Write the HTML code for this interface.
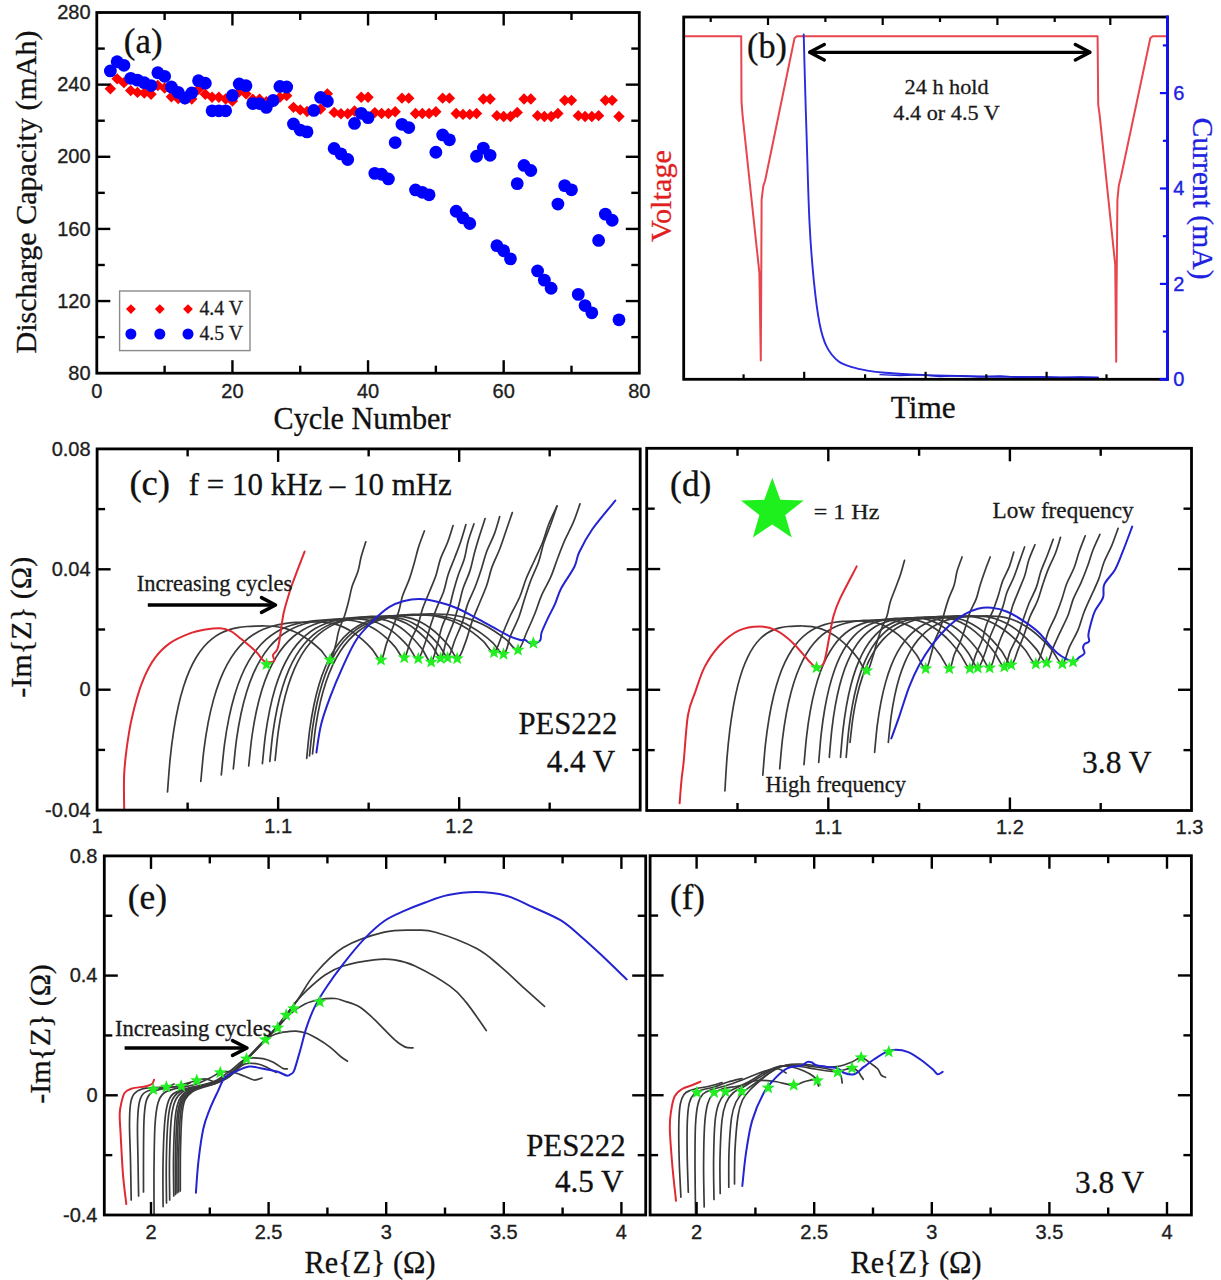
<!DOCTYPE html>
<html><head><meta charset="utf-8"><title>Figure</title>
<style>
html,body{margin:0;padding:0;background:#fff;}
body{width:1221px;height:1280px;overflow:hidden;font-family:"Liberation Sans",sans-serif;}
svg{display:block;}
#wrap{width:1221px;height:1280px;}
</style></head><body>
<div id="wrap"><svg width="1221" height="1280" viewBox="0 0 1221 1280">
<rect width="1221" height="1280" fill="#fff"/>
<g>
<polygon points="110.36,83.09 116.06,88.79 110.36,94.49 104.66,88.79" fill="#ff0000"/>
<polygon points="117.14,73.17 122.84,78.87 117.14,84.57 111.44,78.87" fill="#ff0000"/>
<polygon points="123.92,76.96 129.62,82.66 123.92,88.36 118.22,82.66" fill="#ff0000"/>
<polygon points="130.71,84.89 136.41,90.59 130.71,96.29 125.01,90.59" fill="#ff0000"/>
<polygon points="137.49,86.7 143.19,92.4 137.49,98.1 131.79,92.4" fill="#ff0000"/>
<polygon points="144.27,87.24 149.97,92.94 144.27,98.64 138.57,92.94" fill="#ff0000"/>
<polygon points="151.05,88.5 156.75,94.2 151.05,99.9 145.35,94.2" fill="#ff0000"/>
<polygon points="157.83,79.84 163.53,85.54 157.83,91.24 152.13,85.54" fill="#ff0000"/>
<polygon points="164.61,82.37 170.31,88.07 164.61,93.77 158.91,88.07" fill="#ff0000"/>
<polygon points="171.39,91.02 177.09,96.72 171.39,102.42 165.69,96.72" fill="#ff0000"/>
<polygon points="178.18,92.83 183.88,98.53 178.18,104.23 172.48,98.53" fill="#ff0000"/>
<polygon points="184.96,93.37 190.66,99.07 184.96,104.77 179.26,99.07" fill="#ff0000"/>
<polygon points="191.74,93.37 197.44,99.07 191.74,104.77 186.04,99.07" fill="#ff0000"/>
<polygon points="198.52,83.63 204.22,89.33 198.52,95.03 192.82,89.33" fill="#ff0000"/>
<polygon points="205.3,88.5 211,94.2 205.3,99.9 199.6,94.2" fill="#ff0000"/>
<polygon points="212.08,91.56 217.78,97.26 212.08,102.96 206.38,97.26" fill="#ff0000"/>
<polygon points="218.86,91.56 224.56,97.26 218.86,102.96 213.16,97.26" fill="#ff0000"/>
<polygon points="225.64,93.37 231.34,99.07 225.64,104.77 219.94,99.07" fill="#ff0000"/>
<polygon points="232.43,95.35 238.12,101.05 232.43,106.75 226.73,101.05" fill="#ff0000"/>
<polygon points="239.21,86.15 244.91,91.85 239.21,97.55 233.51,91.85" fill="#ff0000"/>
<polygon points="245.99,88.14 251.69,93.84 245.99,99.54 240.29,93.84" fill="#ff0000"/>
<polygon points="252.77,93.55 258.47,99.25 252.77,104.95 247.07,99.25" fill="#ff0000"/>
<polygon points="259.55,93.55 265.25,99.25 259.55,104.95 253.85,99.25" fill="#ff0000"/>
<polygon points="266.33,96.07 272.03,101.77 266.33,107.47 260.63,101.77" fill="#ff0000"/>
<polygon points="273.11,95.17 278.81,100.87 273.11,106.57 267.41,100.87" fill="#ff0000"/>
<polygon points="279.89,91.56 285.59,97.26 279.89,102.96 274.19,97.26" fill="#ff0000"/>
<polygon points="286.68,89.94 292.38,95.64 286.68,101.34 280.98,95.64" fill="#ff0000"/>
<polygon points="293.46,101.66 299.16,107.36 293.46,113.06 287.76,107.36" fill="#ff0000"/>
<polygon points="300.24,104.19 305.94,109.89 300.24,115.59 294.54,109.89" fill="#ff0000"/>
<polygon points="307.02,105.81 312.72,111.51 307.02,117.21 301.32,111.51" fill="#ff0000"/>
<polygon points="313.8,105.09 319.5,110.79 313.8,116.49 308.1,110.79" fill="#ff0000"/>
<polygon points="320.58,103.29 326.28,108.99 320.58,114.69 314.88,108.99" fill="#ff0000"/>
<polygon points="327.36,88.14 333.06,93.84 327.36,99.54 321.66,93.84" fill="#ff0000"/>
<polygon points="334.14,106.71 339.84,112.41 334.14,118.11 328.44,112.41" fill="#ff0000"/>
<polygon points="340.93,107.98 346.62,113.68 340.93,119.38 335.23,113.68" fill="#ff0000"/>
<polygon points="347.71,107.98 353.41,113.68 347.71,119.38 342.01,113.68" fill="#ff0000"/>
<polygon points="354.49,105.27 360.19,110.97 354.49,116.67 348.79,110.97" fill="#ff0000"/>
<polygon points="361.27,91.56 366.97,97.26 361.27,102.96 355.57,97.26" fill="#ff0000"/>
<polygon points="368.05,91.56 373.75,97.26 368.05,102.96 362.35,97.26" fill="#ff0000"/>
<polygon points="374.83,106.89 380.53,112.59 374.83,118.29 369.13,112.59" fill="#ff0000"/>
<polygon points="381.61,107.8 387.31,113.5 381.61,119.2 375.91,113.5" fill="#ff0000"/>
<polygon points="388.39,107.8 394.09,113.5 388.39,119.2 382.69,113.5" fill="#ff0000"/>
<polygon points="395.18,105.99 400.88,111.69 395.18,117.39 389.48,111.69" fill="#ff0000"/>
<polygon points="401.96,92.47 407.66,98.17 401.96,103.87 396.26,98.17" fill="#ff0000"/>
<polygon points="408.74,92.47 414.44,98.17 408.74,103.87 403.04,98.17" fill="#ff0000"/>
<polygon points="415.52,107.8 421.22,113.5 415.52,119.2 409.82,113.5" fill="#ff0000"/>
<polygon points="422.3,107.8 428,113.5 422.3,119.2 416.6,113.5" fill="#ff0000"/>
<polygon points="429.08,107.8 434.78,113.5 429.08,119.2 423.38,113.5" fill="#ff0000"/>
<polygon points="435.86,105.99 441.56,111.69 435.86,117.39 430.16,111.69" fill="#ff0000"/>
<polygon points="442.64,92.47 448.34,98.17 442.64,103.87 436.94,98.17" fill="#ff0000"/>
<polygon points="449.43,92.47 455.12,98.17 449.43,103.87 443.73,98.17" fill="#ff0000"/>
<polygon points="456.21,107.8 461.91,113.5 456.21,119.2 450.51,113.5" fill="#ff0000"/>
<polygon points="462.99,108.7 468.69,114.4 462.99,120.1 457.29,114.4" fill="#ff0000"/>
<polygon points="469.77,108.7 475.47,114.4 469.77,120.1 464.07,114.4" fill="#ff0000"/>
<polygon points="476.55,107.8 482.25,113.5 476.55,119.2 470.85,113.5" fill="#ff0000"/>
<polygon points="483.33,93.37 489.03,99.07 483.33,104.77 477.63,99.07" fill="#ff0000"/>
<polygon points="490.11,93.37 495.81,99.07 490.11,104.77 484.41,99.07" fill="#ff0000"/>
<polygon points="496.89,109.96 502.59,115.66 496.89,121.36 491.19,115.66" fill="#ff0000"/>
<polygon points="503.68,110.86 509.38,116.56 503.68,122.26 497.98,116.56" fill="#ff0000"/>
<polygon points="510.46,110.86 516.16,116.56 510.46,122.26 504.76,116.56" fill="#ff0000"/>
<polygon points="517.24,106.71 522.94,112.41 517.24,118.11 511.54,112.41" fill="#ff0000"/>
<polygon points="524.02,93.37 529.72,99.07 524.02,104.77 518.32,99.07" fill="#ff0000"/>
<polygon points="530.8,93.37 536.5,99.07 530.8,104.77 525.1,99.07" fill="#ff0000"/>
<polygon points="537.58,109.96 543.28,115.66 537.58,121.36 531.88,115.66" fill="#ff0000"/>
<polygon points="544.36,110.86 550.06,116.56 544.36,122.26 538.66,116.56" fill="#ff0000"/>
<polygon points="551.14,110.86 556.84,116.56 551.14,122.26 545.44,116.56" fill="#ff0000"/>
<polygon points="557.92,107.8 563.62,113.5 557.92,119.2 552.22,113.5" fill="#ff0000"/>
<polygon points="564.71,94.63 570.41,100.33 564.71,106.03 559.01,100.33" fill="#ff0000"/>
<polygon points="571.49,94.63 577.19,100.33 571.49,106.03 565.79,100.33" fill="#ff0000"/>
<polygon points="578.27,109.96 583.97,115.66 578.27,121.36 572.57,115.66" fill="#ff0000"/>
<polygon points="585.05,110.86 590.75,116.56 585.05,122.26 579.35,116.56" fill="#ff0000"/>
<polygon points="591.83,110.86 597.53,116.56 591.83,122.26 586.13,116.56" fill="#ff0000"/>
<polygon points="598.61,109.96 604.31,115.66 598.61,121.36 592.91,115.66" fill="#ff0000"/>
<polygon points="605.39,94.63 611.09,100.33 605.39,106.03 599.69,100.33" fill="#ff0000"/>
<polygon points="612.17,94.63 617.88,100.33 612.17,106.03 606.47,100.33" fill="#ff0000"/>
<polygon points="618.96,110.86 624.66,116.56 618.96,122.26 613.26,116.56" fill="#ff0000"/>
<circle cx="110.36" cy="70.93" r="6.4" fill="#0000ff"/>
<circle cx="117.14" cy="61.74" r="6.4" fill="#0000ff"/>
<circle cx="123.92" cy="65.34" r="6.4" fill="#0000ff"/>
<circle cx="130.71" cy="78.33" r="6.4" fill="#0000ff"/>
<circle cx="137.49" cy="80.13" r="6.4" fill="#0000ff"/>
<circle cx="144.27" cy="82.66" r="6.4" fill="#0000ff"/>
<circle cx="151.05" cy="85.54" r="6.4" fill="#0000ff"/>
<circle cx="157.83" cy="72.74" r="6.4" fill="#0000ff"/>
<circle cx="164.61" cy="76.34" r="6.4" fill="#0000ff"/>
<circle cx="171.39" cy="86.98" r="6.4" fill="#0000ff"/>
<circle cx="178.18" cy="92.4" r="6.4" fill="#0000ff"/>
<circle cx="184.96" cy="97.99" r="6.4" fill="#0000ff"/>
<circle cx="191.74" cy="92.94" r="6.4" fill="#0000ff"/>
<circle cx="198.52" cy="80.67" r="6.4" fill="#0000ff"/>
<circle cx="205.3" cy="83.2" r="6.4" fill="#0000ff"/>
<circle cx="212.08" cy="110.79" r="6.4" fill="#0000ff"/>
<circle cx="218.86" cy="110.79" r="6.4" fill="#0000ff"/>
<circle cx="225.64" cy="110.79" r="6.4" fill="#0000ff"/>
<circle cx="232.43" cy="95.46" r="6.4" fill="#0000ff"/>
<circle cx="239.21" cy="83.92" r="6.4" fill="#0000ff"/>
<circle cx="245.99" cy="85.72" r="6.4" fill="#0000ff"/>
<circle cx="252.77" cy="103.58" r="6.4" fill="#0000ff"/>
<circle cx="259.55" cy="103.58" r="6.4" fill="#0000ff"/>
<circle cx="266.33" cy="107.36" r="6.4" fill="#0000ff"/>
<circle cx="273.11" cy="100.51" r="6.4" fill="#0000ff"/>
<circle cx="279.89" cy="86.44" r="6.4" fill="#0000ff"/>
<circle cx="286.68" cy="86.98" r="6.4" fill="#0000ff"/>
<circle cx="293.46" cy="123.96" r="6.4" fill="#0000ff"/>
<circle cx="300.24" cy="130.09" r="6.4" fill="#0000ff"/>
<circle cx="307.02" cy="131.89" r="6.4" fill="#0000ff"/>
<circle cx="313.8" cy="110.43" r="6.4" fill="#0000ff"/>
<circle cx="320.58" cy="97.44" r="6.4" fill="#0000ff"/>
<circle cx="327.36" cy="101.23" r="6.4" fill="#0000ff"/>
<circle cx="334.14" cy="148.48" r="6.4" fill="#0000ff"/>
<circle cx="340.93" cy="153.89" r="6.4" fill="#0000ff"/>
<circle cx="347.71" cy="159.49" r="6.4" fill="#0000ff"/>
<circle cx="354.49" cy="123.42" r="6.4" fill="#0000ff"/>
<circle cx="361.27" cy="113.32" r="6.4" fill="#0000ff"/>
<circle cx="368.05" cy="117.64" r="6.4" fill="#0000ff"/>
<circle cx="374.83" cy="173.37" r="6.4" fill="#0000ff"/>
<circle cx="381.61" cy="174.27" r="6.4" fill="#0000ff"/>
<circle cx="388.39" cy="178.96" r="6.4" fill="#0000ff"/>
<circle cx="395.18" cy="142.53" r="6.4" fill="#0000ff"/>
<circle cx="401.96" cy="124.32" r="6.4" fill="#0000ff"/>
<circle cx="408.74" cy="127.56" r="6.4" fill="#0000ff"/>
<circle cx="415.52" cy="189.96" r="6.4" fill="#0000ff"/>
<circle cx="422.3" cy="192.31" r="6.4" fill="#0000ff"/>
<circle cx="429.08" cy="194.83" r="6.4" fill="#0000ff"/>
<circle cx="435.86" cy="152.27" r="6.4" fill="#0000ff"/>
<circle cx="442.64" cy="134.96" r="6.4" fill="#0000ff"/>
<circle cx="449.43" cy="139.83" r="6.4" fill="#0000ff"/>
<circle cx="456.21" cy="211.25" r="6.4" fill="#0000ff"/>
<circle cx="462.99" cy="217.92" r="6.4" fill="#0000ff"/>
<circle cx="469.77" cy="223.51" r="6.4" fill="#0000ff"/>
<circle cx="476.55" cy="156.24" r="6.4" fill="#0000ff"/>
<circle cx="483.33" cy="148.12" r="6.4" fill="#0000ff"/>
<circle cx="490.11" cy="155.34" r="6.4" fill="#0000ff"/>
<circle cx="496.89" cy="245.69" r="6.4" fill="#0000ff"/>
<circle cx="503.68" cy="250.74" r="6.4" fill="#0000ff"/>
<circle cx="510.46" cy="258.86" r="6.4" fill="#0000ff"/>
<circle cx="517.24" cy="183.65" r="6.4" fill="#0000ff"/>
<circle cx="524.02" cy="165.44" r="6.4" fill="#0000ff"/>
<circle cx="530.8" cy="170.49" r="6.4" fill="#0000ff"/>
<circle cx="537.58" cy="270.94" r="6.4" fill="#0000ff"/>
<circle cx="544.36" cy="280.14" r="6.4" fill="#0000ff"/>
<circle cx="551.14" cy="288.26" r="6.4" fill="#0000ff"/>
<circle cx="557.92" cy="204.03" r="6.4" fill="#0000ff"/>
<circle cx="564.71" cy="185.64" r="6.4" fill="#0000ff"/>
<circle cx="571.49" cy="189.78" r="6.4" fill="#0000ff"/>
<circle cx="578.27" cy="294.39" r="6.4" fill="#0000ff"/>
<circle cx="585.05" cy="305.57" r="6.4" fill="#0000ff"/>
<circle cx="591.83" cy="312.78" r="6.4" fill="#0000ff"/>
<circle cx="598.61" cy="240.46" r="6.4" fill="#0000ff"/>
<circle cx="605.39" cy="214.13" r="6.4" fill="#0000ff"/>
<circle cx="612.17" cy="220.26" r="6.4" fill="#0000ff"/>
<circle cx="618.96" cy="319.82" r="6.4" fill="#0000ff"/>
<rect x="96.8" y="12.5" width="542.5" height="360.7" fill="none" stroke="#000" stroke-width="2.8"/>
<line x1="232.43" y1="373.2" x2="232.43" y2="360.2" stroke="#000" stroke-width="2.4" />
<line x1="232.43" y1="12.5" x2="232.43" y2="25.5" stroke="#000" stroke-width="2.4" />
<line x1="368.05" y1="373.2" x2="368.05" y2="360.2" stroke="#000" stroke-width="2.4" />
<line x1="368.05" y1="12.5" x2="368.05" y2="25.5" stroke="#000" stroke-width="2.4" />
<line x1="503.68" y1="373.2" x2="503.68" y2="360.2" stroke="#000" stroke-width="2.4" />
<line x1="503.68" y1="12.5" x2="503.68" y2="25.5" stroke="#000" stroke-width="2.4" />
<line x1="164.61" y1="373.2" x2="164.61" y2="365.7" stroke="#000" stroke-width="2.4" />
<line x1="164.61" y1="12.5" x2="164.61" y2="20" stroke="#000" stroke-width="2.4" />
<line x1="300.24" y1="373.2" x2="300.24" y2="365.7" stroke="#000" stroke-width="2.4" />
<line x1="300.24" y1="12.5" x2="300.24" y2="20" stroke="#000" stroke-width="2.4" />
<line x1="435.86" y1="373.2" x2="435.86" y2="365.7" stroke="#000" stroke-width="2.4" />
<line x1="435.86" y1="12.5" x2="435.86" y2="20" stroke="#000" stroke-width="2.4" />
<line x1="571.49" y1="373.2" x2="571.49" y2="365.7" stroke="#000" stroke-width="2.4" />
<line x1="571.49" y1="12.5" x2="571.49" y2="20" stroke="#000" stroke-width="2.4" />
<line x1="96.8" y1="301.06" x2="110.3" y2="301.06" stroke="#000" stroke-width="2.4" />
<line x1="639.3" y1="301.06" x2="625.8" y2="301.06" stroke="#000" stroke-width="2.4" />
<line x1="96.8" y1="228.92" x2="110.3" y2="228.92" stroke="#000" stroke-width="2.4" />
<line x1="639.3" y1="228.92" x2="625.8" y2="228.92" stroke="#000" stroke-width="2.4" />
<line x1="96.8" y1="156.78" x2="110.3" y2="156.78" stroke="#000" stroke-width="2.4" />
<line x1="639.3" y1="156.78" x2="625.8" y2="156.78" stroke="#000" stroke-width="2.4" />
<line x1="96.8" y1="84.64" x2="110.3" y2="84.64" stroke="#000" stroke-width="2.4" />
<line x1="639.3" y1="84.64" x2="625.8" y2="84.64" stroke="#000" stroke-width="2.4" />
<line x1="96.8" y1="337.13" x2="104.8" y2="337.13" stroke="#000" stroke-width="2.4" />
<line x1="639.3" y1="337.13" x2="631.3" y2="337.13" stroke="#000" stroke-width="2.4" />
<line x1="96.8" y1="264.99" x2="104.8" y2="264.99" stroke="#000" stroke-width="2.4" />
<line x1="639.3" y1="264.99" x2="631.3" y2="264.99" stroke="#000" stroke-width="2.4" />
<line x1="96.8" y1="192.85" x2="104.8" y2="192.85" stroke="#000" stroke-width="2.4" />
<line x1="639.3" y1="192.85" x2="631.3" y2="192.85" stroke="#000" stroke-width="2.4" />
<line x1="96.8" y1="120.71" x2="104.8" y2="120.71" stroke="#000" stroke-width="2.4" />
<line x1="639.3" y1="120.71" x2="631.3" y2="120.71" stroke="#000" stroke-width="2.4" />
<line x1="96.8" y1="48.57" x2="104.8" y2="48.57" stroke="#000" stroke-width="2.4" />
<line x1="639.3" y1="48.57" x2="631.3" y2="48.57" stroke="#000" stroke-width="2.4" />
<text x="96.8" y="397.5" font-family='"Liberation Sans", sans-serif' font-size="20" fill="#1e1e1e" text-anchor="middle" stroke="#1e1e1e" stroke-width="0.35">0</text>
<text x="232.43" y="397.5" font-family='"Liberation Sans", sans-serif' font-size="20" fill="#1e1e1e" text-anchor="middle" stroke="#1e1e1e" stroke-width="0.35">20</text>
<text x="368.05" y="397.5" font-family='"Liberation Sans", sans-serif' font-size="20" fill="#1e1e1e" text-anchor="middle" stroke="#1e1e1e" stroke-width="0.35">40</text>
<text x="503.68" y="397.5" font-family='"Liberation Sans", sans-serif' font-size="20" fill="#1e1e1e" text-anchor="middle" stroke="#1e1e1e" stroke-width="0.35">60</text>
<text x="639.3" y="397.5" font-family='"Liberation Sans", sans-serif' font-size="20" fill="#1e1e1e" text-anchor="middle" stroke="#1e1e1e" stroke-width="0.35">80</text>
<text x="90.6" y="379.8" font-family='"Liberation Sans", sans-serif' font-size="20" fill="#1e1e1e" text-anchor="end" stroke="#1e1e1e" stroke-width="0.35">80</text>
<text x="90.6" y="307.66" font-family='"Liberation Sans", sans-serif' font-size="20" fill="#1e1e1e" text-anchor="end" stroke="#1e1e1e" stroke-width="0.35">120</text>
<text x="90.6" y="235.52" font-family='"Liberation Sans", sans-serif' font-size="20" fill="#1e1e1e" text-anchor="end" stroke="#1e1e1e" stroke-width="0.35">160</text>
<text x="90.6" y="163.38" font-family='"Liberation Sans", sans-serif' font-size="20" fill="#1e1e1e" text-anchor="end" stroke="#1e1e1e" stroke-width="0.35">200</text>
<text x="90.6" y="91.24" font-family='"Liberation Sans", sans-serif' font-size="20" fill="#1e1e1e" text-anchor="end" stroke="#1e1e1e" stroke-width="0.35">240</text>
<text x="90.6" y="19.1" font-family='"Liberation Sans", sans-serif' font-size="20" fill="#1e1e1e" text-anchor="end" stroke="#1e1e1e" stroke-width="0.35">280</text>
<rect x="119.6" y="291" width="130.4" height="59.6" fill="#fff" stroke="#8a8a8a" stroke-width="1.4"/>
<polygon points="130.9,304.2 135.8,309.1 130.9,314 126,309.1" fill="#ff0000"/>
<circle cx="130.9" cy="334" r="5.5" fill="#0000ff"/>
<polygon points="159.8,304.2 164.7,309.1 159.8,314 154.9,309.1" fill="#ff0000"/>
<circle cx="159.8" cy="334" r="5.5" fill="#0000ff"/>
<polygon points="188,304.2 192.9,309.1 188,314 183.1,309.1" fill="#ff0000"/>
<circle cx="188" cy="334" r="5.5" fill="#0000ff"/>
<text x="199.5" y="315.2" font-family='"Liberation Serif", serif' font-size="20" fill="#1a1a1a" text-anchor="start" textLength="43.5" lengthAdjust="spacingAndGlyphs"  stroke="#1a1a1a" stroke-width="0.3">4.4 V</text>
<text x="199.5" y="340.3" font-family='"Liberation Serif", serif' font-size="20" fill="#1a1a1a" text-anchor="start" textLength="43.5" lengthAdjust="spacingAndGlyphs"  stroke="#1a1a1a" stroke-width="0.3">4.5 V</text>
<text x="123.8" y="53.2" font-family='"Liberation Serif", serif' font-size="35" fill="#111" text-anchor="start" textLength="38.7" lengthAdjust="spacingAndGlyphs"  stroke="#111" stroke-width="0.3">(a)</text>
<text x="362" y="428.6" font-family='"Liberation Serif", serif' font-size="31" fill="#111" text-anchor="middle" textLength="177" lengthAdjust="spacingAndGlyphs"  stroke="#111" stroke-width="0.3">Cycle Number</text>
<text x="35.6" y="192" font-family='"Liberation Serif", serif' font-size="30" fill="#111" text-anchor="middle" textLength="323" lengthAdjust="spacingAndGlyphs" transform="rotate(-90 35.6 192)"  stroke="#111" stroke-width="0.3">Discharge Capacity (mAh)</text>
<path d="M683.7 36.3 L741.2 36.3 L741.5 101.6 L742.6 115.6 L759.4 273 L760.8 360.5 L761.2 290 L761.6 200 L763.2 186.5 L765.2 180.3 L794.5 38.3 L796.7 36.3 L1097.6 36.3 L1098.2 104.4 L1099.7 115.6 L1115.2 264.7 L1116.2 361.7 L1116.6 290 L1117.4 200 L1118.8 185.5 L1120.8 177.5 L1150.3 38.3 L1152.6 36.3 L1167.4 36.3" fill="none" stroke="#e8464e" stroke-width="2" stroke-linejoin="round" stroke-linecap="round" />
<path d="M803.7 34.5 C803.95 43.75 804.72 73.13 805.2 90 C805.68 106.87 805.88 113.62 806.6 135.7 C807.32 157.78 808.3 198.4 809.5 222.5 C810.7 246.6 812.12 263.43 813.8 280.3 C815.48 297.17 817.43 312.6 819.6 323.7 C821.77 334.8 823.67 340.63 826.8 346.9 C829.93 353.17 834.2 357.92 838.4 361.3 C842.6 364.68 847.18 365.65 852 367.2 C856.82 368.75 861.8 369.67 867.3 370.6 C872.8 371.53 877.77 372.17 885 372.8 C892.23 373.43 902.37 373.97 910.7 374.4 C919.03 374.83 925.12 375.08 935 375.4 C944.88 375.72 957.5 376.05 970 376.3 C982.5 376.55 996.67 376.73 1010 376.9 C1023.33 377.07 1035.33 377.22 1050 377.3 C1064.67 377.38 1090 377.38 1098 377.4" fill="none" stroke="#2a2ae0" stroke-width="1.9" stroke-linejoin="round" stroke-linecap="round" />
<path d="M880 374.6 L900 375.5 L920 374.8 L940 376.5 L960 375.6 L980 377 L1000 376 L1020 377.4 L1040 376.6 L1060 377.6 L1080 376.8 L1098 377.6" fill="none" stroke="#2323d2" stroke-width="1.3" stroke-linejoin="round" stroke-linecap="round" />
<rect x="683.7" y="17" width="483.7" height="362.3" fill="none" stroke="#000" stroke-width="2.8"/>
<line x1="1167.4" y1="15.6" x2="1167.4" y2="380.7" stroke="#1010f0" stroke-width="2.8" />
<line x1="1159.6" y1="379.3" x2="1167.4" y2="379.3" stroke="#1010f0" stroke-width="2.8" />
<line x1="768" y1="17" x2="768" y2="25" stroke="#000" stroke-width="2.2" />
<line x1="882.7" y1="17" x2="882.7" y2="25" stroke="#000" stroke-width="2.2" />
<line x1="997.4" y1="17" x2="997.4" y2="25" stroke="#000" stroke-width="2.2" />
<line x1="1110.3" y1="17" x2="1110.3" y2="25" stroke="#000" stroke-width="2.2" />
<line x1="710.7" y1="17" x2="710.7" y2="22" stroke="#000" stroke-width="2.2" />
<line x1="825.4" y1="17" x2="825.4" y2="22" stroke="#000" stroke-width="2.2" />
<line x1="940" y1="17" x2="940" y2="22" stroke="#000" stroke-width="2.2" />
<line x1="1054.7" y1="17" x2="1054.7" y2="22" stroke="#000" stroke-width="2.2" />
<line x1="804.2" y1="379.3" x2="804.2" y2="371.8" stroke="#000" stroke-width="2.2" />
<line x1="925.6" y1="379.3" x2="925.6" y2="371.8" stroke="#000" stroke-width="2.2" />
<line x1="1046.6" y1="379.3" x2="1046.6" y2="371.8" stroke="#000" stroke-width="2.2" />
<line x1="743.6" y1="379.3" x2="743.6" y2="374.3" stroke="#000" stroke-width="2.2" />
<line x1="865.1" y1="379.3" x2="865.1" y2="374.3" stroke="#000" stroke-width="2.2" />
<line x1="986.3" y1="379.3" x2="986.3" y2="374.3" stroke="#000" stroke-width="2.2" />
<line x1="1106.5" y1="379.3" x2="1106.5" y2="374.3" stroke="#000" stroke-width="2.2" />
<line x1="1167.4" y1="283.9" x2="1159.9" y2="283.9" stroke="#1010f0" stroke-width="2.2" />
<line x1="1167.4" y1="188.5" x2="1159.9" y2="188.5" stroke="#1010f0" stroke-width="2.2" />
<line x1="1167.4" y1="93.1" x2="1159.9" y2="93.1" stroke="#1010f0" stroke-width="2.2" />
<line x1="1167.4" y1="331.6" x2="1162.9" y2="331.6" stroke="#1010f0" stroke-width="2.2" />
<line x1="1167.4" y1="236.2" x2="1162.9" y2="236.2" stroke="#1010f0" stroke-width="2.2" />
<line x1="1167.4" y1="140.8" x2="1162.9" y2="140.8" stroke="#1010f0" stroke-width="2.2" />
<line x1="1167.4" y1="45.4" x2="1162.9" y2="45.4" stroke="#1010f0" stroke-width="2.2" />
<text x="1173.2" y="385.9" font-family='"Liberation Sans", sans-serif' font-size="20" fill="#2020e0" text-anchor="start" stroke="#2020e0" stroke-width="0.35">0</text>
<text x="1173.2" y="290.5" font-family='"Liberation Sans", sans-serif' font-size="20" fill="#2020e0" text-anchor="start" stroke="#2020e0" stroke-width="0.35">2</text>
<text x="1173.2" y="195.1" font-family='"Liberation Sans", sans-serif' font-size="20" fill="#2020e0" text-anchor="start" stroke="#2020e0" stroke-width="0.35">4</text>
<text x="1173.2" y="99.7" font-family='"Liberation Sans", sans-serif' font-size="20" fill="#2020e0" text-anchor="start" stroke="#2020e0" stroke-width="0.35">6</text>
<line x1="808.9" y1="52.3" x2="1090.7" y2="52.3" stroke="#000" stroke-width="3.2" />
<path d="M824.3 44.6 L809.6 52.3 L824.3 60" fill="none" stroke="#000" stroke-width="3.4" stroke-linejoin="round" stroke-linecap="round" />
<path d="M1075.3 44.6 L1090 52.3 L1075.3 60" fill="none" stroke="#000" stroke-width="3.4" stroke-linejoin="round" stroke-linecap="round" />
<text x="747.1" y="57.5" font-family='"Liberation Serif", serif' font-size="35" fill="#111" text-anchor="start" textLength="39.8" lengthAdjust="spacingAndGlyphs"  stroke="#111" stroke-width="0.3">(b)</text>
<text x="946.6" y="93.6" font-family='"Liberation Serif", serif' font-size="22" fill="#1a1a1a" text-anchor="middle" textLength="84" lengthAdjust="spacingAndGlyphs"  stroke="#1a1a1a" stroke-width="0.3">24 h hold</text>
<text x="946.6" y="120.2" font-family='"Liberation Serif", serif' font-size="22" fill="#1a1a1a" text-anchor="middle" textLength="106.5" lengthAdjust="spacingAndGlyphs"  stroke="#1a1a1a" stroke-width="0.3">4.4 or 4.5 V</text>
<text x="670.8" y="196" font-family='"Liberation Serif", serif' font-size="30" fill="#e02020" text-anchor="middle" textLength="92" lengthAdjust="spacingAndGlyphs" transform="rotate(-90 670.8 196)"  stroke="#e02020" stroke-width="0.3">Voltage</text>
<text x="1192.8" y="198.5" font-family='"Liberation Serif", serif' font-size="30" fill="#2020e0" text-anchor="middle" textLength="162" lengthAdjust="spacingAndGlyphs" transform="rotate(90 1192.8 198.5)"  stroke="#2020e0" stroke-width="0.3">Current (mA)</text>
<text x="923.2" y="417.8" font-family='"Liberation Serif", serif' font-size="31.5" fill="#111" text-anchor="middle" textLength="65" lengthAdjust="spacingAndGlyphs"  stroke="#111" stroke-width="0.3">Time</text>
<defs><clipPath id="clipc"><rect x="97.1" y="448.9" width="543.1" height="361.2"/></clipPath><clipPath id="clipd"><rect x="646.7" y="448.3" width="544.8" height="362.2"/></clipPath><clipPath id="clipe"><rect x="104.3" y="855.9" width="541.4" height="359.1"/></clipPath><clipPath id="clipf"><rect x="650.1" y="855.7" width="541.3" height="359.3"/></clipPath></defs>
<g clip-path="url(#clipc)">
<path d="M167.5 792 C167.94 786.48 169.09 769.15 170.13 758.91 C171.16 748.66 172.38 739.27 173.73 730.54 C175.08 721.8 176.6 713.86 178.24 706.52 C179.88 699.18 181.68 692.57 183.58 686.5 C185.49 680.43 187.53 675.02 189.68 670.1 C191.82 665.18 194.09 660.87 196.45 656.97 C198.8 653.08 201.28 649.73 203.82 646.75 C206.37 643.77 209.01 641.27 211.72 639.07 C214.43 636.87 217.23 635.09 220.08 633.56 C222.93 632.03 225.85 630.86 228.81 629.87 C231.77 628.88 234.8 628.2 237.84 627.63 C240.89 627.07 243.99 626.75 247.1 626.48 C250.22 626.22 253.37 626.14 256.51 626.06 C259.66 625.98 262.9 625.93 266 626 C269.1 626.07 272.1 626.11 275.14 626.47 C278.19 626.83 281.24 627.36 284.29 628.16 C287.33 628.96 290.38 629.98 293.43 631.27 C296.48 632.57 299.52 634.1 302.57 635.93 C305.62 637.75 308.67 639.84 311.71 642.22 C314.76 644.6 317.81 647.26 320.86 650.22 C323.9 653.18 327.55 660.83 330 660 C332.45 659.17 334.1 650.15 335.56 645.23 C337.03 640.3 337.3 635.38 338.8 630.45 C340.3 625.53 342.91 620.6 344.56 615.67 C346.21 610.75 347.44 605.82 348.71 600.9 C349.98 595.98 350.66 591.05 352.21 586.12 C353.75 581.2 356.49 576.27 357.99 571.35 C359.5 566.42 359.93 561.5 361.23 556.57 C362.53 551.65 365.04 544.26 365.8 541.8" fill="none" stroke="#3a3a3a" stroke-width="1.7" stroke-linejoin="round" stroke-linecap="round" />
<path d="M200.8 781.5 C201.32 776.2 202.69 759.55 203.92 749.7 C205.16 739.86 206.61 730.83 208.21 722.44 C209.82 714.05 211.63 706.42 213.58 699.37 C215.53 692.31 217.67 685.96 219.93 680.13 C222.2 674.29 224.63 669.1 227.18 664.37 C229.74 659.65 232.44 655.5 235.24 651.76 C238.05 648.02 240.99 644.81 244.02 641.94 C247.05 639.07 250.2 636.67 253.42 634.56 C256.64 632.44 259.97 630.74 263.36 629.27 C266.75 627.79 270.23 626.67 273.75 625.72 C277.27 624.77 280.87 624.11 284.5 623.57 C288.13 623.03 291.81 622.72 295.52 622.47 C299.22 622.21 302.97 622.14 306.71 622.06 C310.46 621.98 314.62 621.92 318 622 C321.38 622.08 324 622.12 327 622.53 C330 622.93 333 623.52 336 624.41 C339 625.31 342 626.44 345 627.89 C348 629.34 351 631.06 354 633.09 C357 635.13 360 637.46 363 640.13 C366 642.79 369 645.76 372 649.07 C375 652.38 378.6 660.87 381 660 C383.4 659.13 384.47 649.25 386.41 643.88 C388.35 638.5 390.6 633.12 392.64 627.75 C394.69 622.38 397.01 617 398.68 611.62 C400.35 606.25 400.91 600.88 402.67 595.5 C404.43 590.12 407.32 584.75 409.24 579.38 C411.16 574 412.64 568.62 414.19 563.25 C415.74 557.88 416.83 552.5 418.54 547.12 C420.24 541.75 423.42 533.69 424.4 531" fill="none" stroke="#3a3a3a" stroke-width="1.7" stroke-linejoin="round" stroke-linecap="round" />
<path d="M221.3 775 C221.84 769.85 223.26 753.67 224.54 744.1 C225.83 734.54 227.33 725.76 229 717.61 C230.67 709.46 232.54 702.04 234.57 695.18 C236.6 688.33 238.82 682.15 241.17 676.49 C243.52 670.82 246.05 665.77 248.7 661.18 C251.35 656.58 254.15 652.56 257.06 648.92 C259.98 645.29 263.03 642.16 266.18 639.38 C269.32 636.59 272.59 634.25 275.94 632.2 C279.29 630.15 282.75 628.49 286.26 627.06 C289.78 625.63 293.39 624.54 297.05 623.62 C300.71 622.69 304.45 622.05 308.21 621.53 C311.98 621 315.81 620.7 319.65 620.45 C323.5 620.21 327.39 620.13 331.28 620.06 C335.17 619.98 339.59 619.92 343 620 C346.41 620.08 348.81 620.12 351.71 620.53 C354.62 620.93 357.52 621.52 360.43 622.41 C363.33 623.31 366.24 624.44 369.14 625.89 C372.05 627.34 374.95 629.06 377.86 631.09 C380.76 633.13 383.67 635.46 386.57 638.13 C389.48 640.79 392.38 643.76 395.29 647.07 C398.19 650.38 401.49 658.94 404 658 C406.51 657.06 408.04 646.96 410.37 641.44 C412.69 635.92 415.89 630.4 417.95 624.88 C420.01 619.35 420.81 613.83 422.72 608.31 C424.64 602.79 427.23 597.27 429.44 591.75 C431.65 586.23 434.14 580.71 436 575.19 C437.85 569.67 438.6 564.15 440.56 558.62 C442.52 553.1 445.64 547.58 447.73 542.06 C449.82 536.54 452.21 528.26 453.1 525.5" fill="none" stroke="#3a3a3a" stroke-width="1.7" stroke-linejoin="round" stroke-linecap="round" />
<path d="M233.3 769 C233.85 764.02 235.28 748.35 236.57 739.1 C237.86 729.84 239.38 721.35 241.06 713.46 C242.75 705.57 244.64 698.39 246.68 691.76 C248.73 685.13 250.96 679.15 253.33 673.66 C255.71 668.18 258.25 663.3 260.92 658.85 C263.59 654.4 266.42 650.51 269.36 646.99 C272.3 643.47 275.37 640.45 278.55 637.75 C281.72 635.05 285.01 632.79 288.39 630.81 C291.77 628.82 295.25 627.22 298.8 625.83 C302.34 624.45 305.99 623.39 309.67 622.5 C313.36 621.61 317.13 620.99 320.93 620.48 C324.73 619.97 328.59 619.67 332.46 619.44 C336.34 619.2 340.26 619.13 344.18 619.05 C348.11 618.98 352.55 618.92 356 619 C359.45 619.08 361.9 619.13 364.86 619.55 C367.81 619.98 370.76 620.6 373.71 621.54 C376.67 622.48 379.62 623.68 382.57 625.2 C385.52 626.72 388.48 628.53 391.43 630.68 C394.38 632.82 397.33 635.28 400.29 638.08 C403.24 640.88 406.19 644.01 409.14 647.5 C412.1 650.98 415.3 659.88 418 659 C420.7 658.12 423.26 647.8 425.36 642.2 C427.47 636.6 428.77 631 430.62 625.4 C432.46 619.8 434.27 614.2 436.44 608.6 C438.6 603 441.65 597.4 443.58 591.8 C445.52 586.2 446.21 580.6 448.03 575 C449.84 569.4 452.36 563.8 454.49 558.2 C456.61 552.6 458.86 547 460.76 541.4 C462.66 535.8 465.04 527.4 465.9 524.6" fill="none" stroke="#3a3a3a" stroke-width="1.7" stroke-linejoin="round" stroke-linecap="round" />
<path d="M248.7 766 C249.24 761.08 250.65 745.63 251.93 736.5 C253.21 727.36 254.71 718.99 256.37 711.2 C258.04 703.42 259.91 696.33 261.93 689.79 C263.95 683.24 266.16 677.35 268.5 671.94 C270.85 666.52 273.37 661.71 276.01 657.32 C278.65 652.93 281.44 649.09 284.35 645.62 C287.25 642.15 290.29 639.16 293.43 636.5 C296.57 633.84 299.82 631.61 303.16 629.65 C306.5 627.69 309.94 626.11 313.45 624.74 C316.96 623.38 320.56 622.33 324.2 621.45 C327.85 620.57 331.57 619.96 335.33 619.46 C339.08 618.95 342.9 618.67 346.73 618.43 C350.56 618.2 354.44 618.13 358.32 618.05 C362.2 617.98 366.6 617.91 370 618 C373.4 618.09 375.81 618.14 378.71 618.61 C381.62 619.07 384.52 619.76 387.43 620.8 C390.33 621.83 393.24 623.15 396.14 624.82 C399.05 626.5 401.95 628.49 404.86 630.85 C407.76 633.21 410.67 635.9 413.57 638.99 C416.48 642.07 419.38 645.51 422.29 649.35 C425.19 653.18 428.51 662.77 431 662 C433.49 661.23 435.41 650.49 437.21 644.74 C439 638.98 439.86 633.23 441.76 627.48 C443.66 621.72 446.75 615.97 448.62 610.21 C450.49 604.46 451.41 598.7 452.98 592.95 C454.54 587.2 456.12 581.44 458.03 575.69 C459.94 569.93 462.74 564.18 464.43 558.42 C466.12 552.67 466.58 546.92 468.16 541.16 C469.74 535.41 472.94 526.78 473.9 523.9" fill="none" stroke="#3a3a3a" stroke-width="1.7" stroke-linejoin="round" stroke-linecap="round" />
<path d="M262.4 763.6 C262.92 758.73 264.29 743.42 265.53 734.38 C266.77 725.33 268.23 717.03 269.84 709.32 C271.46 701.61 273.26 694.59 275.22 688.11 C277.18 681.63 279.33 675.79 281.6 670.43 C283.88 665.07 286.31 660.29 288.87 655.95 C291.43 651.6 294.14 647.79 296.96 644.35 C299.77 640.92 302.72 637.96 305.76 635.33 C308.81 632.69 311.96 630.48 315.2 628.54 C318.44 626.6 321.77 625.03 325.18 623.68 C328.58 622.32 332.07 621.29 335.6 620.42 C339.13 619.55 342.75 618.94 346.38 618.44 C350.02 617.94 353.73 617.66 357.44 617.43 C361.15 617.2 364.91 617.12 368.67 617.05 C372.43 616.98 376.66 616.91 380 617 C383.34 617.09 385.81 617.13 388.71 617.57 C391.62 618 394.52 618.64 397.43 619.61 C400.33 620.57 403.24 621.8 406.14 623.36 C409.05 624.92 411.95 626.77 414.86 628.97 C417.76 631.17 420.67 633.68 423.57 636.56 C426.48 639.43 429.38 642.63 432.29 646.21 C435.19 649.78 438.66 658.94 441 658 C443.34 657.06 444.29 646.38 446.33 640.58 C448.37 634.77 451.18 628.96 453.22 623.15 C455.27 617.34 456.97 611.53 458.61 605.73 C460.26 599.92 461.21 594.11 463.1 588.3 C464.99 582.49 468.08 576.68 469.95 570.88 C471.82 565.07 472.73 559.26 474.31 553.45 C475.89 547.64 477.64 541.83 479.44 536.02 C481.24 530.22 484.16 521.5 485.1 518.6" fill="none" stroke="#3a3a3a" stroke-width="1.7" stroke-linejoin="round" stroke-linecap="round" />
<path d="M269.8 761.5 C270.32 756.7 271.69 741.61 272.92 732.69 C274.16 723.78 275.61 715.6 277.21 708 C278.82 700.4 280.63 693.48 282.58 687.09 C284.53 680.7 286.67 674.94 288.93 669.66 C291.2 664.38 293.63 659.67 296.18 655.39 C298.74 651.11 301.44 647.35 304.24 643.96 C307.05 640.57 309.99 637.66 313.02 635.06 C316.05 632.46 319.2 630.29 322.42 628.37 C325.64 626.46 328.97 624.92 332.36 623.58 C335.75 622.25 339.23 621.23 342.75 620.37 C346.27 619.51 349.87 618.91 353.5 618.42 C357.13 617.93 360.81 617.65 364.52 617.42 C368.22 617.19 371.97 617.12 375.71 617.05 C379.46 616.98 383.67 616.92 387 617 C390.33 617.08 392.81 617.13 395.71 617.55 C398.62 617.98 401.52 618.6 404.43 619.54 C407.33 620.48 410.24 621.68 413.14 623.2 C416.05 624.72 418.95 626.53 421.86 628.68 C424.76 630.82 427.67 633.28 430.57 636.08 C433.48 638.88 436.38 642.01 439.29 645.5 C442.19 648.98 445.36 658.01 448 657 C450.64 655.99 452.7 645.3 455.12 639.45 C457.53 633.6 460.41 627.75 462.48 621.9 C464.56 616.05 465.46 610.2 467.57 604.35 C469.69 598.5 472.89 592.65 475.18 586.8 C477.47 580.95 479.41 575.1 481.31 569.25 C483.22 563.4 484.45 557.55 486.61 551.7 C488.77 545.85 492.1 540 494.28 534.15 C496.46 528.3 498.8 519.52 499.7 516.6" fill="none" stroke="#3a3a3a" stroke-width="1.7" stroke-linejoin="round" stroke-linecap="round" />
<path d="M275.1 760.4 C275.63 755.6 277.02 740.53 278.27 731.61 C279.52 722.7 280.99 714.53 282.62 706.93 C284.26 699.34 286.09 692.43 288.07 686.04 C290.05 679.66 292.21 673.9 294.51 668.62 C296.81 663.34 299.28 658.64 301.87 654.36 C304.46 650.08 307.2 646.33 310.04 642.94 C312.89 639.56 315.87 636.65 318.94 634.05 C322.02 631.45 325.21 629.28 328.48 627.37 C331.75 625.45 335.13 623.91 338.57 622.58 C342.01 621.24 345.54 620.23 349.11 619.37 C352.68 618.51 356.33 617.91 360.01 617.42 C363.69 616.93 367.43 616.65 371.19 616.42 C374.95 616.19 378.75 616.12 382.55 616.05 C386.35 615.98 390.57 615.91 394 616 C397.43 616.09 400.1 616.14 403.14 616.58 C406.19 617.03 409.24 617.68 412.29 618.67 C415.33 619.66 418.38 620.91 421.43 622.51 C424.48 624.11 427.52 626.01 430.57 628.26 C433.62 630.52 436.67 633.09 439.71 636.03 C442.76 638.98 445.81 642.26 448.86 645.92 C451.9 649.58 455.09 659.02 458 658 C460.91 656.98 464 645.88 466.33 639.83 C468.66 633.77 469.81 627.71 471.98 621.65 C474.15 615.59 476.89 609.53 479.35 603.48 C481.8 597.42 484.63 591.36 486.73 585.3 C488.83 579.24 489.79 573.18 491.95 567.12 C494.12 561.07 497.4 555.01 499.74 548.95 C502.09 542.89 503.95 536.83 506.05 530.77 C508.14 524.72 511.26 515.63 512.3 512.6" fill="none" stroke="#3a3a3a" stroke-width="1.7" stroke-linejoin="round" stroke-linecap="round" />
<path d="M306.7 758.3 C307.2 753.54 308.53 738.58 309.72 729.73 C310.92 720.89 312.31 712.78 313.87 705.24 C315.42 697.7 317.17 690.85 319.06 684.51 C320.94 678.17 323.01 672.46 325.2 667.22 C327.39 661.98 329.74 657.32 332.21 653.07 C334.67 648.82 337.28 645.1 340 641.74 C342.71 638.38 345.55 635.49 348.48 632.91 C351.41 630.34 354.45 628.18 357.57 626.28 C360.69 624.38 363.9 622.85 367.18 621.53 C370.46 620.2 373.82 619.2 377.22 618.34 C380.63 617.49 384.11 616.9 387.61 616.41 C391.12 615.92 394.69 615.64 398.26 615.42 C401.84 615.19 405.47 615.12 409.09 615.05 C412.71 614.98 416.42 614.92 420 615 C423.58 615.08 427.05 615.12 430.57 615.51 C434.1 615.9 437.62 616.48 441.14 617.35 C444.67 618.22 448.19 619.33 451.71 620.74 C455.24 622.15 458.76 623.82 462.29 625.8 C465.81 627.79 469.33 630.06 472.86 632.65 C476.38 635.24 479.9 638.13 483.43 641.36 C486.95 644.58 490.81 653.27 494 652 C497.19 650.73 499.85 639.83 502.59 633.75 C505.32 627.67 507.56 621.58 510.4 615.5 C513.23 609.42 517 603.33 519.61 597.25 C522.22 591.17 523.59 585.08 526.03 579 C528.48 572.92 531.53 566.83 534.29 560.75 C537.04 554.67 540.15 548.58 542.55 542.5 C544.95 536.42 546.29 530.33 548.7 524.25 C551.11 518.17 555.62 509.04 557 506" fill="none" stroke="#3a3a3a" stroke-width="1.7" stroke-linejoin="round" stroke-linecap="round" />
<path d="M309.5 756 C310.02 751.32 311.38 736.59 312.61 727.89 C313.83 719.19 315.27 711.21 316.87 703.79 C318.47 696.38 320.26 689.63 322.21 683.39 C324.15 677.16 326.27 671.54 328.52 666.38 C330.77 661.23 333.19 656.64 335.73 652.46 C338.26 648.28 340.95 644.61 343.74 641.31 C346.53 638 349.45 635.16 352.46 632.62 C355.47 630.09 358.6 627.97 361.81 626.1 C365.01 624.23 368.32 622.72 371.69 621.42 C375.06 620.12 378.51 619.13 382.02 618.29 C385.52 617.45 389.09 616.87 392.7 616.39 C396.31 615.91 399.97 615.63 403.65 615.41 C407.33 615.19 411.06 615.12 414.78 615.05 C418.51 614.98 422.27 614.92 426 615 C429.73 615.08 433.43 615.13 437.14 615.54 C440.86 615.95 444.57 616.56 448.29 617.48 C452 618.4 455.71 619.56 459.43 621.05 C463.14 622.53 466.86 624.29 470.57 626.39 C474.29 628.48 478 630.87 481.71 633.6 C485.43 636.34 489.14 639.38 492.86 642.78 C496.57 646.18 501.04 655.21 504 654 C506.96 652.79 508.11 641.67 510.59 635.5 C513.07 629.33 516.54 623.17 518.9 617 C521.25 610.83 522.7 604.67 524.71 598.5 C526.72 592.33 528.63 586.17 530.96 580 C533.29 573.83 536.58 567.67 538.71 561.5 C540.84 555.33 541.74 549.17 543.74 543 C545.73 536.83 548.46 530.67 550.67 524.5 C552.88 518.33 555.95 509.08 557 506" fill="none" stroke="#3a3a3a" stroke-width="1.7" stroke-linejoin="round" stroke-linecap="round" />
<path d="M312.5 754 C313.05 749.35 314.49 734.73 315.79 726.09 C317.09 717.45 318.62 709.53 320.31 702.16 C322.01 694.8 323.91 688.1 325.97 681.91 C328.03 675.72 330.27 670.14 332.66 665.02 C335.05 659.9 337.61 655.34 340.3 651.19 C342.99 647.04 345.84 643.4 348.79 640.12 C351.75 636.84 354.85 634.02 358.04 631.5 C361.23 628.98 364.55 626.87 367.95 625.02 C371.35 623.17 374.85 621.67 378.42 620.38 C382 619.09 385.66 618.1 389.37 617.27 C393.08 616.43 396.88 615.85 400.7 615.38 C404.52 614.9 408.41 614.63 412.31 614.41 C416.21 614.19 420.16 614.12 424.11 614.05 C428.06 613.98 432.07 613.93 436 614 C439.93 614.07 443.81 614.12 447.71 614.5 C451.62 614.88 455.52 615.44 459.43 616.29 C463.33 617.13 467.24 618.21 471.14 619.58 C475.05 620.95 478.95 622.58 482.86 624.51 C486.76 626.44 490.67 628.65 494.57 631.17 C498.48 633.69 502.38 636.51 506.29 639.65 C510.19 642.78 514.56 651.32 518 650 C521.44 648.68 524.13 637.82 526.95 631.74 C529.77 625.65 532.46 619.56 534.92 613.48 C537.37 607.39 539.02 601.3 541.66 595.21 C544.31 589.12 548.16 583.04 550.79 576.95 C553.43 570.86 555.17 564.77 557.49 558.69 C559.81 552.6 562.06 546.51 564.71 540.42 C567.36 534.34 570.86 528.25 573.41 522.16 C575.96 516.08 578.9 506.94 580 503.9" fill="none" stroke="#3a3a3a" stroke-width="1.7" stroke-linejoin="round" stroke-linecap="round" />
<path d="M124.3 815 C124.3 807.83 123.43 786.2 124.3 772 C125.17 757.8 127.4 742.1 129.5 729.8 C131.6 717.5 134.43 706.98 136.9 698.2 C139.37 689.42 141.32 683.78 144.3 677.1 C147.28 670.42 150.58 663.72 154.8 658.1 C159.02 652.48 163.97 647.43 169.6 643.4 C175.23 639.37 182.62 636.2 188.6 633.9 C194.58 631.6 200.23 630.55 205.5 629.6 C210.77 628.65 215.98 627.95 220.2 628.2 C224.42 628.45 227.28 629.28 230.8 631.1 C234.32 632.92 237.08 635.65 241.3 639.1 C245.52 642.55 252.23 648.1 256.1 651.8 C259.97 655.5 261.52 659.72 264.5 661.3 C267.48 662.88 272.58 662.35 274 661.3 C275.42 660.25 272.47 656.93 273 655 C273.53 653.07 276.15 652 277.2 649.7 C278.25 647.4 278.25 647.18 279.3 641.2 C280.35 635.22 281.93 621.5 283.5 613.8 C285.07 606.1 287.28 599.87 288.7 595 C290.12 590.13 289.35 591.83 292 584.6 C294.65 577.37 302.5 557.1 304.6 551.6" fill="none" stroke="#e02a33" stroke-width="2" stroke-linejoin="round" stroke-linecap="round" />
<path d="M316.4 752.5 C317.18 747.82 318.75 733.78 321.1 724.4 C323.45 715.02 326.98 705.58 330.5 696.2 C334.02 686.82 337.92 677.47 342.2 668.1 C346.48 658.73 351.12 647.82 356.2 640 C361.28 632.18 367.22 626.67 372.7 621.2 C378.18 615.73 384.03 610.52 389.1 607.2 C394.17 603.88 398.03 602.67 403.1 601.3 C408.17 599.93 413.63 598.88 419.5 599 C425.37 599.12 432.15 600.5 438.3 602 C444.45 603.5 450.12 605.37 456.4 608 C462.68 610.63 470 614.67 476 617.8 C482 620.93 486.93 623.8 492.4 626.8 C497.87 629.8 504.15 633.6 508.8 635.8 C513.45 638 517.57 639.3 520.3 640 C523.03 640.7 523.3 639.33 525.2 640 C527.1 640.67 529.23 643.88 531.7 644 C534.17 644.12 538.35 642.62 540 640.7 C541.65 638.78 540.27 636.28 541.6 632.5 C542.93 628.72 545.82 622.63 548 618 C550.18 613.37 552.5 609.65 554.7 604.7 C556.9 599.75 557.93 594.58 561.2 588.3 C564.47 582.02 571.3 573.02 574.3 567 C577.3 560.98 576.2 558.48 579.2 552.2 C582.2 545.92 586.28 537.9 592.3 529.3 C598.32 520.7 611.47 505.38 615.3 500.6" fill="none" stroke="#2323d2" stroke-width="2" stroke-linejoin="round" stroke-linecap="round" />
<polygon points="266.6,657.6 268.3,662.15 273.16,662.37 269.36,665.4 270.66,670.08 266.6,667.4 262.54,670.08 263.84,665.4 260.04,662.37 264.9,662.15" fill="#22ee22" />
<polygon points="330,653.1 331.7,657.65 336.56,657.87 332.76,660.9 334.06,665.58 330,662.9 325.94,665.58 327.24,660.9 323.44,657.87 328.3,657.65" fill="#22ee22" />
<polygon points="381,653.1 382.7,657.65 387.56,657.87 383.76,660.9 385.06,665.58 381,662.9 376.94,665.58 378.24,660.9 374.44,657.87 379.3,657.65" fill="#22ee22" />
<polygon points="404.3,650.7 406,655.25 410.86,655.47 407.06,658.5 408.36,663.18 404.3,660.5 400.24,663.18 401.54,658.5 397.74,655.47 402.6,655.25" fill="#22ee22" />
<polygon points="418.3,651.8 420,656.35 424.86,656.57 421.06,659.6 422.36,664.28 418.3,661.6 414.24,664.28 415.54,659.6 411.74,656.57 416.6,656.35" fill="#22ee22" />
<polygon points="431.2,655.1 432.9,659.65 437.76,659.87 433.96,662.9 435.26,667.58 431.2,664.9 427.14,667.58 428.44,662.9 424.64,659.87 429.5,659.65" fill="#22ee22" />
<polygon points="440.6,651.4 442.3,655.95 447.16,656.17 443.36,659.2 444.66,663.88 440.6,661.2 436.54,663.88 437.84,659.2 434.04,656.17 438.9,655.95" fill="#22ee22" />
<polygon points="447.6,651 449.3,655.55 454.16,655.77 450.36,658.8 451.66,663.48 447.6,660.8 443.54,663.48 444.84,658.8 441.04,655.77 445.9,655.55" fill="#22ee22" />
<polygon points="457.2,651.8 458.9,656.35 463.76,656.57 459.96,659.6 461.26,664.28 457.2,661.6 453.14,664.28 454.44,659.6 450.64,656.57 455.5,656.35" fill="#22ee22" />
<polygon points="494,645.6 495.7,650.15 500.56,650.37 496.76,653.4 498.06,658.08 494,655.4 489.94,658.08 491.24,653.4 487.44,650.37 492.3,650.15" fill="#22ee22" />
<polygon points="503.5,647.3 505.2,651.85 510.06,652.07 506.26,655.1 507.56,659.78 503.5,657.1 499.44,659.78 500.74,655.1 496.94,652.07 501.8,651.85" fill="#22ee22" />
<polygon points="518,643.1 519.7,647.65 524.56,647.87 520.76,650.9 522.06,655.58 518,652.9 513.94,655.58 515.24,650.9 511.44,647.87 516.3,647.65" fill="#22ee22" />
<polygon points="533.4,636.3 535.1,640.85 539.96,641.07 536.16,644.1 537.46,648.78 533.4,646.1 529.34,648.78 530.64,644.1 526.84,641.07 531.7,640.85" fill="#22ee22" />
</g>
<rect x="97.1" y="448.9" width="543.1" height="361.2" fill="none" stroke="#000" stroke-width="2.8"/>
<line x1="278.13" y1="810.1" x2="278.13" y2="797.1" stroke="#000" stroke-width="2.4" />
<line x1="278.13" y1="448.9" x2="278.13" y2="461.9" stroke="#000" stroke-width="2.4" />
<line x1="459.17" y1="810.1" x2="459.17" y2="797.1" stroke="#000" stroke-width="2.4" />
<line x1="459.17" y1="448.9" x2="459.17" y2="461.9" stroke="#000" stroke-width="2.4" />
<line x1="187.62" y1="810.1" x2="187.62" y2="802.6" stroke="#000" stroke-width="2.4" />
<line x1="187.62" y1="448.9" x2="187.62" y2="456.4" stroke="#000" stroke-width="2.4" />
<line x1="368.65" y1="810.1" x2="368.65" y2="802.6" stroke="#000" stroke-width="2.4" />
<line x1="368.65" y1="448.9" x2="368.65" y2="456.4" stroke="#000" stroke-width="2.4" />
<line x1="549.68" y1="810.1" x2="549.68" y2="802.6" stroke="#000" stroke-width="2.4" />
<line x1="549.68" y1="448.9" x2="549.68" y2="456.4" stroke="#000" stroke-width="2.4" />
<line x1="97.1" y1="689.7" x2="110.6" y2="689.7" stroke="#000" stroke-width="2.4" />
<line x1="640.2" y1="689.7" x2="626.7" y2="689.7" stroke="#000" stroke-width="2.4" />
<line x1="97.1" y1="569.3" x2="110.6" y2="569.3" stroke="#000" stroke-width="2.4" />
<line x1="640.2" y1="569.3" x2="626.7" y2="569.3" stroke="#000" stroke-width="2.4" />
<line x1="97.1" y1="749.9" x2="105.1" y2="749.9" stroke="#000" stroke-width="2.4" />
<line x1="640.2" y1="749.9" x2="632.2" y2="749.9" stroke="#000" stroke-width="2.4" />
<line x1="97.1" y1="629.5" x2="105.1" y2="629.5" stroke="#000" stroke-width="2.4" />
<line x1="640.2" y1="629.5" x2="632.2" y2="629.5" stroke="#000" stroke-width="2.4" />
<line x1="97.1" y1="509.1" x2="105.1" y2="509.1" stroke="#000" stroke-width="2.4" />
<line x1="640.2" y1="509.1" x2="632.2" y2="509.1" stroke="#000" stroke-width="2.4" />
<text x="97.1" y="833.2" font-family='"Liberation Sans", sans-serif' font-size="20" fill="#1e1e1e" text-anchor="middle" stroke="#1e1e1e" stroke-width="0.35">1</text>
<text x="278.13" y="833.2" font-family='"Liberation Sans", sans-serif' font-size="20" fill="#1e1e1e" text-anchor="middle" stroke="#1e1e1e" stroke-width="0.35">1.1</text>
<text x="459.17" y="833.2" font-family='"Liberation Sans", sans-serif' font-size="20" fill="#1e1e1e" text-anchor="middle" stroke="#1e1e1e" stroke-width="0.35">1.2</text>
<text x="90.6" y="816.7" font-family='"Liberation Sans", sans-serif' font-size="20" fill="#1e1e1e" text-anchor="end" stroke="#1e1e1e" stroke-width="0.35">-0.04</text>
<text x="90.6" y="696.3" font-family='"Liberation Sans", sans-serif' font-size="20" fill="#1e1e1e" text-anchor="end" stroke="#1e1e1e" stroke-width="0.35">0</text>
<text x="90.6" y="575.9" font-family='"Liberation Sans", sans-serif' font-size="20" fill="#1e1e1e" text-anchor="end" stroke="#1e1e1e" stroke-width="0.35">0.04</text>
<text x="90.6" y="455.5" font-family='"Liberation Sans", sans-serif' font-size="20" fill="#1e1e1e" text-anchor="end" stroke="#1e1e1e" stroke-width="0.35">0.08</text>
<text x="129.4" y="495.2" font-family='"Liberation Serif", serif' font-size="35" fill="#111" text-anchor="start" textLength="40.7" lengthAdjust="spacingAndGlyphs"  stroke="#111" stroke-width="0.3">(c)</text>
<text x="188.8" y="494.9" font-family='"Liberation Serif", serif' font-size="31" fill="#111" text-anchor="start" textLength="263" lengthAdjust="spacingAndGlyphs"  stroke="#111" stroke-width="0.3">f = 10 kHz – 10 mHz</text>
<text x="136.8" y="591.1" font-family='"Liberation Serif", serif' font-size="22.5" fill="#1a1a1a" text-anchor="start" textLength="155.5" lengthAdjust="spacingAndGlyphs"  stroke="#1a1a1a" stroke-width="0.3">Increasing cycles</text>
<line x1="147.8" y1="605" x2="274.5" y2="605" stroke="#000" stroke-width="3.3" />
<path d="M261.5 597.6 L275.5 605 L261.5 612.4" fill="none" stroke="#000" stroke-width="3.5" stroke-linejoin="round" stroke-linecap="round" />
<text x="617.3" y="733.9" font-family='"Liberation Serif", serif' font-size="31.5" fill="#111" text-anchor="end" textLength="98.8" lengthAdjust="spacingAndGlyphs"  stroke="#111" stroke-width="0.3">PES222</text>
<text x="615.3" y="772.3" font-family='"Liberation Serif", serif' font-size="31.5" fill="#111" text-anchor="end" textLength="68.5" lengthAdjust="spacingAndGlyphs"  stroke="#111" stroke-width="0.3">4.4 V</text>
<text x="31" y="627.3" font-family='"Liberation Serif", serif' font-size="30" fill="#111" text-anchor="middle" textLength="141" lengthAdjust="spacingAndGlyphs" transform="rotate(-90 31 627.3)"  stroke="#111" stroke-width="0.3">-Im{Z} (Ω)</text>
<g clip-path="url(#clipd)">
<path d="M724.9 791 C725.25 785.52 726.16 768.29 726.98 758.11 C727.81 747.93 728.77 738.59 729.84 729.91 C730.91 721.23 732.12 713.33 733.42 706.03 C734.72 698.74 736.14 692.16 737.65 686.13 C739.16 680.1 740.78 674.73 742.48 669.84 C744.18 664.94 745.98 660.66 747.85 656.79 C749.72 652.92 751.68 649.59 753.7 646.62 C755.72 643.66 757.82 641.17 759.97 638.99 C762.11 636.8 764.33 635.04 766.59 633.52 C768.85 631.99 771.17 630.83 773.51 629.85 C775.86 628.87 778.26 628.18 780.68 627.62 C783.09 627.06 785.55 626.74 788.02 626.48 C790.48 626.22 792.98 626.14 795.48 626.06 C797.98 625.98 800.23 625.91 803 626 C805.77 626.09 809.07 626.15 812.1 626.62 C815.13 627.1 818.17 627.8 821.2 628.86 C824.23 629.92 827.27 631.26 830.3 632.98 C833.33 634.69 836.37 636.72 839.4 639.14 C842.43 641.55 845.47 644.31 848.5 647.46 C851.53 650.62 854.57 654.13 857.6 658.06 C860.63 661.98 864.19 671.15 866.7 671 C869.21 670.85 871.01 661.78 872.66 657.17 C874.31 652.57 875.19 647.96 876.61 643.35 C878.03 638.74 879.42 634.13 881.16 629.52 C882.9 624.92 885.54 620.31 887.06 615.7 C888.57 611.09 888.86 606.48 890.26 601.88 C891.67 597.27 893.78 592.66 895.5 588.05 C897.22 583.44 899.07 578.83 900.57 574.23 C902.07 569.62 903.84 562.7 904.5 560.4" fill="none" stroke="#3a3a3a" stroke-width="1.7" stroke-linejoin="round" stroke-linecap="round" />
<path d="M762.8 775.2 C763.24 770.08 764.4 753.98 765.44 744.46 C766.49 734.95 767.71 726.22 769.08 718.11 C770.44 709.99 771.97 702.61 773.62 695.8 C775.27 688.98 777.08 682.83 779 677.2 C780.91 671.56 782.97 666.54 785.13 661.97 C787.29 657.4 789.58 653.39 791.95 649.77 C794.33 646.16 796.82 643.05 799.38 640.27 C801.94 637.5 804.61 635.18 807.34 633.14 C810.07 631.1 812.89 629.45 815.75 628.02 C818.62 626.6 821.57 625.51 824.55 624.6 C827.53 623.68 830.57 623.04 833.64 622.52 C836.71 621.99 839.84 621.69 842.97 621.45 C846.1 621.21 849.28 621.13 852.45 621.06 C855.62 620.98 858.89 620.9 862 621 C865.11 621.1 868.07 621.15 871.1 621.66 C874.13 622.16 877.17 622.91 880.2 624.03 C883.23 625.15 886.27 626.58 889.3 628.4 C892.33 630.21 895.37 632.37 898.4 634.93 C901.43 637.49 904.47 640.41 907.5 643.75 C910.53 647.1 913.57 650.82 916.6 654.98 C919.63 659.14 923.3 668.74 925.7 668.7 C928.1 668.66 929.5 659.39 931 654.74 C932.51 650.08 933.09 645.43 934.72 640.78 C936.34 636.12 939.16 631.47 940.76 626.81 C942.36 622.16 943.01 617.5 944.31 612.85 C945.61 608.2 946.93 603.54 948.57 598.89 C950.22 594.23 952.76 589.58 954.18 584.92 C955.61 580.27 955.81 575.62 957.13 570.96 C958.45 566.31 961.27 559.33 962.1 557" fill="none" stroke="#3a3a3a" stroke-width="1.7" stroke-linejoin="round" stroke-linecap="round" />
<path d="M779.7 768.8 C780.16 763.86 781.38 748.32 782.48 739.14 C783.58 729.96 784.87 721.53 786.3 713.7 C787.73 705.88 789.34 698.76 791.07 692.18 C792.81 685.6 794.71 679.67 796.73 674.23 C798.75 668.79 800.91 663.94 803.18 659.53 C805.45 655.12 807.85 651.25 810.35 647.76 C812.85 644.28 815.46 641.28 818.16 638.6 C820.86 635.92 823.66 633.68 826.53 631.71 C829.4 629.74 832.36 628.15 835.38 626.78 C838.39 625.4 841.49 624.36 844.62 623.47 C847.76 622.58 850.96 621.97 854.19 621.46 C857.42 620.96 860.7 620.67 863.99 620.43 C867.29 620.2 870.62 620.13 873.96 620.05 C877.29 619.98 880.77 619.9 884 620 C887.23 620.1 890.22 620.16 893.33 620.67 C896.44 621.19 899.55 621.95 902.66 623.09 C905.77 624.24 908.88 625.7 911.99 627.55 C915.1 629.4 918.2 631.61 921.31 634.22 C924.42 636.83 927.53 639.82 930.64 643.23 C933.75 646.64 936.86 650.45 939.97 654.69 C943.08 658.94 946.93 668.69 949.3 668.7 C951.67 668.71 952.29 659.39 954.19 654.74 C956.08 650.08 958.76 645.43 960.67 640.78 C962.58 636.12 964.14 631.47 965.65 626.81 C967.16 622.16 967.98 617.5 969.74 612.85 C971.5 608.2 974.46 603.54 976.2 598.89 C977.94 594.23 978.72 589.58 980.18 584.92 C981.63 580.27 983.25 575.62 984.92 570.96 C986.59 566.31 989.32 559.33 990.2 557" fill="none" stroke="#3a3a3a" stroke-width="1.7" stroke-linejoin="round" stroke-linecap="round" />
<path d="M804 764.6 C804.44 759.76 805.61 744.56 806.67 735.58 C807.72 726.59 808.95 718.35 810.33 710.69 C811.7 703.03 813.24 696.06 814.91 689.62 C816.57 683.19 818.39 677.39 820.33 672.06 C822.26 666.74 824.34 662 826.51 657.68 C828.69 653.37 830.99 649.58 833.39 646.17 C835.78 642.75 838.29 639.82 840.88 637.2 C843.46 634.58 846.15 632.39 848.9 630.46 C851.65 628.53 854.49 626.98 857.38 625.63 C860.27 624.29 863.24 623.26 866.24 622.4 C869.25 621.53 872.32 620.93 875.42 620.43 C878.51 619.94 881.66 619.65 884.82 619.42 C887.98 619.19 891.17 619.12 894.37 619.05 C897.57 618.98 900.83 618.89 904 619 C907.17 619.11 910.28 619.16 913.41 619.69 C916.55 620.21 919.69 620.99 922.83 622.16 C925.97 623.33 929.1 624.81 932.24 626.71 C935.38 628.6 938.52 630.84 941.66 633.51 C944.8 636.18 947.93 639.22 951.07 642.71 C954.21 646.19 957.35 650.07 960.49 654.41 C963.62 658.74 967.33 668.75 969.9 668.7 C972.47 668.65 973.87 658.98 975.94 654.11 C978 649.25 980.55 644.39 982.29 639.53 C984.04 634.66 984.61 629.8 986.4 624.94 C988.19 620.08 991.07 615.21 993.04 610.35 C995.01 605.49 996.63 600.62 998.22 595.76 C999.81 590.9 1000.73 586.04 1002.58 581.17 C1004.43 576.31 1007.44 571.45 1009.31 566.59 C1011.18 561.73 1013.05 554.43 1013.8 552" fill="none" stroke="#3a3a3a" stroke-width="1.7" stroke-linejoin="round" stroke-linecap="round" />
<path d="M818.7 762.5 C819.12 757.7 820.24 742.61 821.24 733.69 C822.25 724.78 823.42 716.6 824.73 709 C826.04 701.4 827.5 694.48 829.09 688.09 C830.68 681.7 832.42 675.94 834.26 670.66 C836.1 665.38 838.08 660.67 840.15 656.39 C842.23 652.11 844.43 648.35 846.71 644.96 C848.99 641.57 851.38 638.66 853.84 636.06 C856.31 633.46 858.87 631.29 861.49 629.37 C864.11 627.46 866.82 625.92 869.57 624.58 C872.33 623.25 875.15 622.23 878.02 621.37 C880.88 620.51 883.81 619.91 886.76 619.42 C889.71 618.93 892.71 618.65 895.72 618.42 C898.73 618.19 901.78 618.12 904.82 618.05 C907.87 617.98 910.95 617.89 914 618 C917.05 618.11 920.08 618.16 923.11 618.69 C926.15 619.22 929.19 619.99 932.23 621.16 C935.27 622.34 938.3 623.83 941.34 625.72 C944.38 627.62 947.42 629.87 950.46 632.54 C953.5 635.21 956.53 638.26 959.57 641.75 C962.61 645.24 965.65 649.14 968.69 653.48 C971.72 657.82 975.07 667.93 977.8 667.8 C980.53 667.67 983.09 657.73 985.09 652.7 C987.08 647.67 987.92 642.63 989.77 637.6 C991.62 632.57 994.05 627.53 996.19 622.5 C998.34 617.47 1000.85 612.43 1002.65 607.4 C1004.44 602.37 1005.09 597.33 1006.96 592.3 C1008.82 587.27 1011.79 582.23 1013.84 577.2 C1015.89 572.17 1017.45 567.13 1019.24 562.1 C1021.03 557.07 1023.71 549.52 1024.6 547" fill="none" stroke="#3a3a3a" stroke-width="1.7" stroke-linejoin="round" stroke-linecap="round" />
<path d="M829.3 757.3 C829.72 752.67 830.83 738.13 831.82 729.53 C832.82 720.94 833.99 713.05 835.29 705.72 C836.59 698.4 838.05 691.73 839.63 685.57 C841.21 679.41 842.93 673.86 844.76 668.77 C846.59 663.67 848.56 659.14 850.62 655.01 C852.68 650.88 854.86 647.26 857.13 643.99 C859.4 640.73 861.77 637.92 864.22 635.41 C866.67 632.91 869.21 630.81 871.82 628.97 C874.42 627.12 877.11 625.63 879.85 624.35 C882.59 623.06 885.4 622.08 888.25 621.25 C891.09 620.42 894 619.84 896.93 619.37 C899.86 618.9 902.84 618.63 905.83 618.41 C908.82 618.19 911.85 618.12 914.88 618.05 C917.91 617.98 920.92 617.89 924 618 C927.08 618.11 930.25 618.16 933.37 618.69 C936.5 619.22 939.62 619.99 942.74 621.16 C945.87 622.34 948.99 623.83 952.11 625.72 C955.24 627.62 958.36 629.87 961.49 632.54 C964.61 635.21 967.73 638.26 970.86 641.75 C973.98 645.24 977.1 649.14 980.23 653.48 C983.35 657.82 987.01 667.98 989.6 667.8 C992.19 667.62 993.8 657.54 995.74 652.41 C997.69 647.28 999.19 642.15 1001.28 637.02 C1003.37 631.9 1006.4 626.77 1008.28 621.64 C1010.15 616.51 1010.8 611.38 1012.52 606.25 C1014.25 601.12 1016.58 595.99 1018.62 590.86 C1020.66 585.73 1023.06 580.6 1024.76 575.48 C1026.45 570.35 1027.09 565.22 1028.8 560.09 C1030.51 554.96 1033.97 547.26 1035 544.7" fill="none" stroke="#3a3a3a" stroke-width="1.7" stroke-linejoin="round" stroke-linecap="round" />
<path d="M840.5 757.3 C840.92 752.64 842.04 737.99 843.05 729.33 C844.05 720.67 845.23 712.73 846.54 705.35 C847.85 697.97 849.32 691.26 850.91 685.05 C852.51 678.85 854.24 673.26 856.09 668.13 C857.94 663 859.92 658.43 862 654.27 C864.08 650.12 866.28 646.47 868.57 643.18 C870.85 639.89 873.25 637.06 875.72 634.54 C878.18 632.02 880.75 629.9 883.38 628.04 C886 626.19 888.72 624.69 891.48 623.39 C894.24 622.1 897.07 621.11 899.94 620.27 C902.81 619.44 905.75 618.86 908.7 618.38 C911.66 617.9 914.66 617.63 917.68 617.41 C920.7 617.19 923.75 617.12 926.8 617.05 C929.86 616.98 932.84 616.89 936 617 C939.16 617.11 942.5 617.16 945.76 617.69 C949.01 618.22 952.26 618.99 955.51 620.16 C958.77 621.34 962.02 622.83 965.27 624.72 C968.52 626.62 971.78 628.87 975.03 631.54 C978.28 634.21 981.53 637.26 984.79 640.75 C988.04 644.24 991.29 648.14 994.54 652.48 C997.8 656.82 1001.67 667.07 1004.3 666.8 C1006.93 666.53 1008.02 656.17 1010.32 650.86 C1012.62 645.55 1015.92 640.24 1018.1 634.92 C1020.27 629.61 1021.55 624.3 1023.39 618.99 C1025.23 613.67 1026.97 608.36 1029.14 603.05 C1031.3 597.74 1034.42 592.42 1036.39 587.11 C1038.35 581.8 1039.09 576.49 1040.92 571.17 C1042.75 565.86 1045.31 560.55 1047.36 555.24 C1049.41 549.92 1052.23 541.96 1053.2 539.3" fill="none" stroke="#3a3a3a" stroke-width="1.7" stroke-linejoin="round" stroke-linecap="round" />
<path d="M846.2 757.3 C846.63 752.64 847.78 737.99 848.81 729.33 C849.84 720.67 851.04 712.73 852.39 705.35 C853.73 697.97 855.24 691.26 856.87 685.05 C858.5 678.85 860.28 673.26 862.17 668.13 C864.06 663 866.09 658.43 868.22 654.27 C870.35 650.12 872.6 646.47 874.94 643.18 C877.28 639.89 879.74 637.06 882.26 634.54 C884.79 632.02 887.42 629.9 890.11 628.04 C892.8 626.19 895.58 624.69 898.41 623.39 C901.23 622.1 904.14 621.11 907.08 620.27 C910.02 619.44 913.02 618.86 916.04 618.38 C919.07 617.9 922.15 617.63 925.24 617.41 C928.33 617.19 931.45 617.12 934.58 617.05 C937.71 616.98 940.83 616.9 944 617 C947.17 617.1 950.4 617.15 953.6 617.66 C956.8 618.17 960 618.91 963.2 620.04 C966.4 621.16 969.6 622.59 972.8 624.41 C976 626.23 979.2 628.39 982.4 630.96 C985.6 633.52 988.8 636.45 992 639.8 C995.2 643.15 998.4 646.89 1001.6 651.05 C1004.8 655.22 1008.4 665.16 1011.2 664.8 C1014 664.44 1016.13 654.17 1018.39 648.86 C1020.64 643.55 1022.8 638.24 1024.71 632.92 C1026.63 627.61 1027.74 622.3 1029.86 616.99 C1031.98 611.67 1035.3 606.36 1037.42 601.05 C1039.54 595.74 1040.76 590.42 1042.57 585.11 C1044.37 579.8 1046.11 574.49 1048.25 569.17 C1050.39 563.86 1053.38 558.55 1055.42 553.24 C1057.46 547.92 1059.65 539.96 1060.5 537.3" fill="none" stroke="#3a3a3a" stroke-width="1.7" stroke-linejoin="round" stroke-linecap="round" />
<path d="M850 742.5 C850.5 738.3 851.8 725.09 852.99 717.28 C854.17 709.48 855.55 702.32 857.09 695.66 C858.62 689.01 860.35 682.95 862.21 677.36 C864.08 671.77 866.12 666.73 868.29 662.1 C870.45 657.48 872.78 653.36 875.21 649.61 C877.65 645.86 880.23 642.57 882.91 639.6 C885.6 636.64 888.4 634.09 891.3 631.81 C894.2 629.54 897.2 627.63 900.29 625.96 C903.37 624.28 906.55 622.93 909.79 621.76 C913.02 620.59 916.35 619.7 919.71 618.95 C923.08 618.2 926.52 617.67 929.99 617.24 C933.45 616.81 936.98 616.57 940.51 616.37 C944.05 616.17 947.63 616.11 951.21 616.05 C954.8 615.98 958.45 615.9 962 616 C965.55 616.1 969.03 616.15 972.54 616.66 C976.06 617.17 979.57 617.91 983.09 619.04 C986.6 620.16 990.11 621.59 993.63 623.41 C997.14 625.23 1000.66 627.39 1004.17 629.96 C1007.69 632.52 1011.2 635.45 1014.71 638.8 C1018.23 642.15 1021.74 645.89 1025.26 650.05 C1028.77 654.22 1032.79 664.18 1035.8 663.8 C1038.81 663.42 1041.24 653.13 1043.32 647.8 C1045.4 642.47 1046.21 637.13 1048.26 631.8 C1050.31 626.47 1053.38 621.13 1055.62 615.8 C1057.85 610.47 1059.82 605.13 1061.66 599.8 C1063.5 594.47 1064.59 589.13 1066.66 583.8 C1068.73 578.47 1072.02 573.13 1074.09 567.8 C1076.17 562.47 1077.27 557.13 1079.12 551.8 C1080.97 546.47 1084.19 538.47 1085.2 535.8" fill="none" stroke="#3a3a3a" stroke-width="1.7" stroke-linejoin="round" stroke-linecap="round" />
<path d="M874.6 752.3 C875.05 747.77 876.23 733.54 877.3 725.13 C878.37 716.72 879.62 709 881.02 701.83 C882.41 694.66 883.97 688.14 885.66 682.11 C887.35 676.09 889.19 670.66 891.16 665.67 C893.12 660.69 895.22 656.25 897.43 652.21 C899.64 648.17 901.97 644.63 904.4 641.43 C906.83 638.24 909.37 635.49 911.99 633.04 C914.61 630.59 917.34 628.53 920.13 626.73 C922.92 624.92 925.8 623.47 928.73 622.21 C931.66 620.95 934.67 619.99 937.72 619.18 C940.76 618.37 943.88 617.8 947.02 617.34 C950.15 616.88 953.34 616.61 956.55 616.4 C959.75 616.18 962.99 616.12 966.24 616.05 C969.48 615.98 972.69 615.9 976 616 C979.31 616.1 982.72 616.15 986.09 616.65 C989.45 617.15 992.81 617.88 996.17 618.98 C999.53 620.08 1002.9 621.49 1006.26 623.27 C1009.62 625.06 1012.98 627.18 1016.34 629.69 C1019.7 632.21 1023.07 635.08 1026.43 638.37 C1029.79 641.66 1033.15 645.32 1036.51 649.41 C1039.88 653.5 1043.77 663.33 1046.6 662.9 C1049.43 662.47 1051.11 652.19 1053.47 646.84 C1055.83 641.48 1058.31 636.13 1060.78 630.77 C1063.24 625.42 1066.15 620.07 1068.25 614.71 C1070.36 609.36 1071.28 604 1073.41 598.65 C1075.55 593.3 1078.74 587.94 1081.08 582.59 C1083.41 577.23 1085.48 571.88 1087.43 566.52 C1089.39 561.17 1090.73 555.82 1092.8 550.46 C1094.88 545.11 1098.72 537.08 1099.9 534.4" fill="none" stroke="#3a3a3a" stroke-width="1.7" stroke-linejoin="round" stroke-linecap="round" />
<path d="M888.3 742.5 C888.75 738.3 889.94 725.09 891.01 717.28 C892.08 709.48 893.34 702.32 894.73 695.66 C896.13 689.01 897.7 682.95 899.39 677.36 C901.09 671.77 902.94 666.73 904.9 662.1 C906.87 657.48 908.98 653.36 911.2 649.61 C913.41 645.86 915.75 642.57 918.19 639.6 C920.62 636.64 923.17 634.09 925.8 631.81 C928.43 629.54 931.16 627.63 933.96 625.96 C936.76 624.28 939.65 622.93 942.59 621.76 C945.53 620.59 948.55 619.7 951.6 618.95 C954.66 618.2 957.78 617.67 960.93 617.24 C964.08 616.81 967.28 616.57 970.49 616.37 C973.7 616.17 976.95 616.11 980.21 616.05 C983.46 615.98 986.65 615.9 990 616 C993.35 616.1 996.89 616.15 1000.33 616.66 C1003.77 617.17 1007.21 617.91 1010.66 619.04 C1014.1 620.16 1017.54 621.59 1020.99 623.41 C1024.43 625.23 1027.87 627.39 1031.31 629.96 C1034.76 632.52 1038.2 635.45 1041.64 638.8 C1045.09 642.15 1048.53 645.89 1051.97 650.05 C1055.41 654.22 1059.38 664.33 1062.3 663.8 C1065.22 663.27 1066.88 652.52 1069.5 646.88 C1072.13 641.23 1075.68 635.59 1078.05 629.95 C1080.42 624.31 1081.57 618.67 1083.75 613.02 C1085.92 607.38 1088.61 601.74 1091.09 596.1 C1093.58 590.46 1096.51 584.82 1098.66 579.17 C1100.81 573.53 1101.78 567.89 1103.98 562.25 C1106.17 556.61 1109.48 550.97 1111.84 545.32 C1114.19 539.68 1117.06 531.22 1118.1 528.4" fill="none" stroke="#3a3a3a" stroke-width="1.7" stroke-linejoin="round" stroke-linecap="round" />
<path d="M679.6 803.3 C679.92 799.42 680.82 786.97 681.5 780 C682.18 773.03 682.62 772.33 683.7 761.5 C684.78 750.67 686.07 726.6 688 715 C689.93 703.4 692.5 699.97 695.3 691.9 C698.1 683.83 700.75 674.33 704.8 666.6 C708.85 658.87 713.97 651.48 719.6 645.5 C725.23 639.52 731.92 633.87 738.6 630.7 C745.28 627.53 753.37 626.5 759.7 626.5 C766.03 626.5 770.98 627.88 776.6 630.7 C782.22 633.52 788.13 638.48 793.4 643.4 C798.67 648.32 804.33 656.17 808.2 660.2 C812.07 664.23 814.13 666.9 816.6 667.6 C819.07 668.3 821.42 666.68 823 664.4 C824.58 662.12 825.05 658.47 826.1 653.9 C827.15 649.33 828.07 643.33 829.3 637 C830.53 630.67 831.75 622.22 833.5 615.9 C835.25 609.58 835.93 607.35 839.8 599.1 C843.67 590.85 853.88 571.85 856.7 566.4" fill="none" stroke="#e02a33" stroke-width="2" stroke-linejoin="round" stroke-linecap="round" />
<path d="M891.3 738.5 C892.6 734.9 896.15 725.42 899.1 716.9 C902.05 708.38 905.72 695.92 909 687.4 C912.28 678.88 914.87 673 918.8 665.8 C922.73 658.6 927.68 650.75 932.6 644.2 C937.52 637.65 943.07 631.42 948.3 626.5 C953.53 621.58 959.08 617.65 964 614.7 C968.92 611.75 973.22 609.95 977.8 608.8 C982.38 607.65 986.6 607.32 991.5 607.8 C996.4 608.28 1001.95 609.57 1007.2 611.7 C1012.45 613.83 1017.75 617.15 1023 620.6 C1028.25 624.05 1034.12 628.15 1038.7 632.4 C1043.28 636.65 1047.22 642.5 1050.5 646.1 C1053.78 649.7 1055.78 651.87 1058.4 654 C1061.02 656.13 1063.63 657.68 1066.2 658.9 C1068.77 660.12 1071.65 661.55 1073.8 661.3 C1075.95 661.05 1077.33 658.72 1079.1 657.4 C1080.87 656.08 1083.73 654.97 1084.4 653.4 C1085.07 651.83 1083.1 649.55 1083.1 648 C1083.1 646.45 1083.4 645.2 1084.4 644.1 C1085.4 643 1088.43 642.95 1089.1 641.4 C1089.77 639.85 1088.07 637.9 1088.4 634.8 C1088.73 631.7 1090 626.78 1091.1 622.8 C1092.2 618.82 1093.02 615.1 1095 610.9 C1096.98 606.7 1101.45 602.03 1103 597.6 C1104.55 593.17 1102.3 588.95 1104.3 584.3 C1106.3 579.65 1111.9 575.22 1115 569.7 C1118.1 564.18 1120.03 558.38 1122.9 551.2 C1125.77 544.02 1130.65 530.7 1132.2 526.6" fill="none" stroke="#2323d2" stroke-width="2" stroke-linejoin="round" stroke-linecap="round" />
<polygon points="816.6,660.7 818.3,665.25 823.16,665.47 819.36,668.5 820.66,673.18 816.6,670.5 812.54,673.18 813.84,668.5 810.04,665.47 814.9,665.25" fill="#22ee22" />
<polygon points="866.7,663.8 868.4,668.35 873.26,668.57 869.46,671.6 870.76,676.28 866.7,673.6 862.64,676.28 863.94,671.6 860.14,668.57 865,668.35" fill="#22ee22" />
<polygon points="925.7,661.8 927.4,666.35 932.26,666.57 928.46,669.6 929.76,674.28 925.7,671.6 921.64,674.28 922.94,669.6 919.14,666.57 924,666.35" fill="#22ee22" />
<polygon points="949.3,661.8 951,666.35 955.86,666.57 952.06,669.6 953.36,674.28 949.3,671.6 945.24,674.28 946.54,669.6 942.74,666.57 947.6,666.35" fill="#22ee22" />
<polygon points="969.9,661.8 971.6,666.35 976.46,666.57 972.66,669.6 973.96,674.28 969.9,671.6 965.84,674.28 967.14,669.6 963.34,666.57 968.2,666.35" fill="#22ee22" />
<polygon points="977.8,660.9 979.5,665.45 984.36,665.67 980.56,668.7 981.86,673.38 977.8,670.7 973.74,673.38 975.04,668.7 971.24,665.67 976.1,665.45" fill="#22ee22" />
<polygon points="989.6,660.9 991.3,665.45 996.16,665.67 992.36,668.7 993.66,673.38 989.6,670.7 985.54,673.38 986.84,668.7 983.04,665.67 987.9,665.45" fill="#22ee22" />
<polygon points="1004.3,659.9 1006,664.45 1010.86,664.67 1007.06,667.7 1008.36,672.38 1004.3,669.7 1000.24,672.38 1001.54,667.7 997.74,664.67 1002.6,664.45" fill="#22ee22" />
<polygon points="1011.2,657.9 1012.9,662.45 1017.76,662.67 1013.96,665.7 1015.26,670.38 1011.2,667.7 1007.14,670.38 1008.44,665.7 1004.64,662.67 1009.5,662.45" fill="#22ee22" />
<polygon points="1035.8,656.9 1037.5,661.45 1042.36,661.67 1038.56,664.7 1039.86,669.38 1035.8,666.7 1031.74,669.38 1033.04,664.7 1029.24,661.67 1034.1,661.45" fill="#22ee22" />
<polygon points="1046.6,656 1048.3,660.55 1053.16,660.77 1049.36,663.8 1050.66,668.48 1046.6,665.8 1042.54,668.48 1043.84,663.8 1040.04,660.77 1044.9,660.55" fill="#22ee22" />
<polygon points="1062.3,656.9 1064,661.45 1068.86,661.67 1065.06,664.7 1066.36,669.38 1062.3,666.7 1058.24,669.38 1059.54,664.7 1055.74,661.67 1060.6,661.45" fill="#22ee22" />
<polygon points="1073.1,655 1074.8,659.55 1079.66,659.77 1075.86,662.8 1077.16,667.48 1073.1,664.8 1069.04,667.48 1070.34,662.8 1066.54,659.77 1071.4,659.55" fill="#22ee22" />
</g>
<rect x="646.7" y="448.3" width="544.8" height="362.2" fill="none" stroke="#000" stroke-width="2.8"/>
<line x1="828.3" y1="810.5" x2="828.3" y2="797.5" stroke="#000" stroke-width="2.4" />
<line x1="828.3" y1="448.3" x2="828.3" y2="461.3" stroke="#000" stroke-width="2.4" />
<line x1="1009.9" y1="810.5" x2="1009.9" y2="797.5" stroke="#000" stroke-width="2.4" />
<line x1="1009.9" y1="448.3" x2="1009.9" y2="461.3" stroke="#000" stroke-width="2.4" />
<line x1="737.5" y1="810.5" x2="737.5" y2="803" stroke="#000" stroke-width="2.4" />
<line x1="737.5" y1="448.3" x2="737.5" y2="455.8" stroke="#000" stroke-width="2.4" />
<line x1="919.1" y1="810.5" x2="919.1" y2="803" stroke="#000" stroke-width="2.4" />
<line x1="919.1" y1="448.3" x2="919.1" y2="455.8" stroke="#000" stroke-width="2.4" />
<line x1="1100.7" y1="810.5" x2="1100.7" y2="803" stroke="#000" stroke-width="2.4" />
<line x1="1100.7" y1="448.3" x2="1100.7" y2="455.8" stroke="#000" stroke-width="2.4" />
<line x1="646.7" y1="689.77" x2="660.2" y2="689.77" stroke="#000" stroke-width="2.4" />
<line x1="1191.5" y1="689.77" x2="1178" y2="689.77" stroke="#000" stroke-width="2.4" />
<line x1="646.7" y1="569.03" x2="660.2" y2="569.03" stroke="#000" stroke-width="2.4" />
<line x1="1191.5" y1="569.03" x2="1178" y2="569.03" stroke="#000" stroke-width="2.4" />
<line x1="646.7" y1="750.13" x2="654.7" y2="750.13" stroke="#000" stroke-width="2.4" />
<line x1="1191.5" y1="750.13" x2="1183.5" y2="750.13" stroke="#000" stroke-width="2.4" />
<line x1="646.7" y1="629.4" x2="654.7" y2="629.4" stroke="#000" stroke-width="2.4" />
<line x1="1191.5" y1="629.4" x2="1183.5" y2="629.4" stroke="#000" stroke-width="2.4" />
<line x1="646.7" y1="508.67" x2="654.7" y2="508.67" stroke="#000" stroke-width="2.4" />
<line x1="1191.5" y1="508.67" x2="1183.5" y2="508.67" stroke="#000" stroke-width="2.4" />
<text x="828.3" y="833.6" font-family='"Liberation Sans", sans-serif' font-size="20" fill="#1e1e1e" text-anchor="middle" stroke="#1e1e1e" stroke-width="0.35">1.1</text>
<text x="1009.9" y="833.6" font-family='"Liberation Sans", sans-serif' font-size="20" fill="#1e1e1e" text-anchor="middle" stroke="#1e1e1e" stroke-width="0.35">1.2</text>
<text x="1189.5" y="833.6" font-family='"Liberation Sans", sans-serif' font-size="20" fill="#1e1e1e" text-anchor="middle" stroke="#1e1e1e" stroke-width="0.35">1.3</text>
<text x="670.1" y="495.5" font-family='"Liberation Serif", serif' font-size="35" fill="#111" text-anchor="start" textLength="41.3" lengthAdjust="spacingAndGlyphs"  stroke="#111" stroke-width="0.3">(d)</text>
<polygon points="772.3,477.8 780.29,499.8 803.68,500.6 785.23,515 791.7,537.5 772.3,524.4 752.9,537.5 759.37,515 740.92,500.6 764.31,499.8" fill="#1ef01e" />
<text x="813.8" y="518.7" font-family='"Liberation Serif", serif' font-size="21" fill="#1a1a1a" text-anchor="start" textLength="65.6" lengthAdjust="spacingAndGlyphs"  stroke="#1a1a1a" stroke-width="0.3">= 1 Hz</text>
<text x="992.6" y="518.3" font-family='"Liberation Serif", serif' font-size="23.5" fill="#1a1a1a" text-anchor="start" textLength="141" lengthAdjust="spacingAndGlyphs"  stroke="#1a1a1a" stroke-width="0.3">Low frequency</text>
<text x="765.6" y="792.3" font-family='"Liberation Serif", serif' font-size="23" fill="#1a1a1a" text-anchor="start" textLength="140.5" lengthAdjust="spacingAndGlyphs"  stroke="#1a1a1a" stroke-width="0.3">High frequency</text>
<text x="1151.5" y="772.7" font-family='"Liberation Serif", serif' font-size="31.5" fill="#111" text-anchor="end" textLength="69.5" lengthAdjust="spacingAndGlyphs"  stroke="#111" stroke-width="0.3">3.8 V</text>
<g clip-path="url(#clipe)">
<path d="M131.2 1200 C131.08 1193.33 130.78 1172.5 130.5 1160 C130.22 1147.5 129.5 1134.33 129.5 1125 C129.5 1115.67 129.75 1109.17 130.5 1104 C131.25 1098.83 132.08 1096.5 134 1094 C135.92 1091.5 138.5 1090.08 142 1089 C145.5 1087.92 150.93 1087.83 155 1087.5 C159.07 1087.17 163.23 1087.58 166.4 1087 C169.57 1086.42 172.73 1084.5 174 1084" fill="none" stroke="#3a3a3a" stroke-width="1.7" stroke-linejoin="round" stroke-linecap="round" />
<path d="M138.6 1196 C138.5 1190 138.18 1171.83 138 1160 C137.82 1148.17 137.33 1134.33 137.5 1125 C137.67 1115.67 138.08 1109.17 139 1104 C139.92 1098.83 140.83 1096.42 143 1094 C145.17 1091.58 148.17 1090.58 152 1089.5 C155.83 1088.42 161.13 1088.05 166 1087.5 C170.87 1086.95 177.2 1086.95 181.2 1086.2 C185.2 1085.45 188.53 1083.53 190 1083" fill="none" stroke="#3a3a3a" stroke-width="1.7" stroke-linejoin="round" stroke-linecap="round" />
<path d="M143.5 1191.9 C143.5 1185.75 143.42 1166.98 143.5 1155 C143.58 1143.02 143.58 1128.83 144 1120 C144.42 1111.17 144.83 1106.5 146 1102 C147.17 1097.5 148.33 1095.17 151 1093 C153.67 1090.83 157.5 1090.17 162 1089 C166.5 1087.83 172.22 1087.42 178 1086 C183.78 1084.58 192.03 1081.67 196.7 1080.5 C201.37 1079.33 203.12 1078.75 206 1079 C208.88 1079.25 212.67 1081.5 214 1082" fill="none" stroke="#3a3a3a" stroke-width="1.7" stroke-linejoin="round" stroke-linecap="round" />
<path d="M154.1 1216 C154.08 1208.33 153.85 1185.17 154 1170 C154.15 1154.83 154.33 1136.17 155 1125 C155.67 1113.83 156.5 1108.33 158 1103 C159.5 1097.67 161 1095.42 164 1093 C167 1090.58 170.83 1089.92 176 1088.5 C181.17 1087.08 189.33 1086.25 195 1084.5 C200.67 1082.75 205.75 1080 210 1078 C214.25 1076 216.83 1073.5 220.5 1072.5 C224.17 1071.5 228.08 1071.42 232 1072 C235.92 1072.58 240.33 1074.67 244 1076 C247.67 1077.33 251 1079.67 254 1080 C257 1080.33 260.67 1078.33 262 1078" fill="none" stroke="#3a3a3a" stroke-width="1.7" stroke-linejoin="round" stroke-linecap="round" />
<path d="M163.1 1206.6 C163.08 1199.67 162.77 1178.6 163 1165 C163.23 1151.4 163.75 1135.17 164.5 1125 C165.25 1114.83 166.08 1109.17 167.5 1104 C168.92 1098.83 170.08 1096.5 173 1094 C175.92 1091.5 180.5 1090.42 185 1089 C189.5 1087.58 195 1086.83 200 1085.5 C205 1084.17 210 1083.42 215 1081 C220 1078.58 224.78 1074.7 230 1071 C235.22 1067.3 240.65 1060.83 246.3 1058.8 C251.95 1056.77 259.2 1058.1 263.9 1058.8 C268.6 1059.5 271.32 1061.4 274.5 1063 C277.68 1064.6 280.87 1067.42 283 1068.4 C285.13 1069.38 286.58 1068.82 287.3 1068.9" fill="none" stroke="#3a3a3a" stroke-width="1.7" stroke-linejoin="round" stroke-linecap="round" />
<path d="M169.7 1200 C169.67 1193.33 169.28 1173 169.5 1160 C169.72 1147 170.25 1131.33 171 1122 C171.75 1112.67 172.5 1108.67 174 1104 C175.5 1099.33 177 1096.67 180 1094 C183 1091.33 187.33 1089.58 192 1088 C196.67 1086.42 202.67 1086.17 208 1084.5 C213.33 1082.83 217.83 1082.08 224 1078 C230.17 1073.92 238.17 1066.33 245 1060 C251.83 1053.67 259.83 1044.33 265 1040 C270.17 1035.67 273 1035.3 276 1034 C279 1032.7 279.7 1032.68 283 1032.2 C286.3 1031.72 291.88 1030.93 295.8 1031.1 C299.72 1031.27 302.95 1031.95 306.5 1033.2 C310.05 1034.45 313.18 1036.28 317.1 1038.6 C321.02 1040.92 326.18 1044.2 330 1047.1 C333.82 1050 337.1 1053.65 340 1056 C342.9 1058.35 346.17 1060.33 347.4 1061.2" fill="none" stroke="#3a3a3a" stroke-width="1.7" stroke-linejoin="round" stroke-linecap="round" />
<path d="M173.8 1196 C173.75 1189.67 173.3 1170.67 173.5 1158 C173.7 1145.33 174.25 1129.17 175 1120 C175.75 1110.83 176.5 1107.42 178 1103 C179.5 1098.58 181 1096 184 1093.5 C187 1091 191.33 1089.58 196 1088 C200.67 1086.42 206.67 1085.83 212 1084 C217.33 1082.17 222.33 1081 228 1077 C233.67 1073 239.83 1066.17 246 1060 C252.17 1053.83 259.67 1045.5 265 1040 C270.33 1034.5 273.83 1031.33 278 1027 C282.17 1022.67 285.5 1017.83 290 1014 C294.5 1010.17 300 1006.42 305 1004 C310 1001.58 315 1000.42 320 999.5 C325 998.58 331.12 998.28 335 998.5 C338.88 998.72 339.18 999.4 343.3 1000.8 C347.42 1002.2 354.58 1003.83 359.7 1006.9 C364.82 1009.97 368.2 1013.73 374 1019.2 C379.8 1024.67 389.37 1035.08 394.5 1039.7 C399.63 1044.32 401.72 1045.53 404.8 1046.9 C407.88 1048.27 411.63 1047.73 413 1047.9" fill="none" stroke="#3a3a3a" stroke-width="1.7" stroke-linejoin="round" stroke-linecap="round" />
<path d="M177 1193 C177 1186.67 176.75 1167.5 177 1155 C177.25 1142.5 177.75 1126.83 178.5 1118 C179.25 1109.17 179.92 1106.17 181.5 1102 C183.08 1097.83 184.92 1095.42 188 1093 C191.08 1090.58 195.5 1089.08 200 1087.5 C204.5 1085.92 210 1085.42 215 1083.5 C220 1081.58 224.5 1080.25 230 1076 C235.5 1071.75 241.67 1064.5 248 1058 C254.33 1051.5 262 1043.67 268 1037 C274 1030.33 279.33 1023.83 284 1018 C288.67 1012.17 292.25 1006.57 296 1002 C299.75 997.43 301.67 995.1 306.5 990.6 C311.33 986.1 318.87 979.1 325 975 C331.13 970.9 335.13 968.52 343.3 966 C351.47 963.48 365.47 960.92 374 959.9 C382.53 958.88 387.67 958.88 394.5 959.9 C401.33 960.92 405.72 961.58 415 966 C424.28 970.42 441.67 980.33 450.2 986.4 C458.73 992.47 460.18 995.05 466.2 1002.4 C472.22 1009.75 482.95 1025.82 486.3 1030.5" fill="none" stroke="#3a3a3a" stroke-width="1.7" stroke-linejoin="round" stroke-linecap="round" />
<path d="M180.3 1191 C180.33 1184.17 180.22 1162.67 180.5 1150 C180.78 1137.33 181.25 1123.33 182 1115 C182.75 1106.67 183.33 1103.83 185 1100 C186.67 1096.17 188.83 1094.17 192 1092 C195.17 1089.83 199.67 1088.58 204 1087 C208.33 1085.42 213.33 1084.67 218 1082.5 C222.67 1080.33 226.67 1078.42 232 1074 C237.33 1069.58 243.67 1062.5 250 1056 C256.33 1049.5 264 1041.83 270 1035 C276 1028.17 281.28 1021.03 286 1015 C290.72 1008.97 293.52 1005.6 298.3 998.8 C303.08 992 307.2 982.73 314.7 974.2 C322.2 965.67 331.7 954.6 343.3 947.6 C354.9 940.6 372.35 935.1 384.3 932.2 C396.25 929.3 406.47 930.2 415 930.2 C423.53 930.2 425.3 929.18 435.5 932.2 C445.7 935.22 465.4 942.62 476.2 948.3 C487 953.98 492.27 959.62 500.3 966.3 C508.33 972.98 517.03 981.72 524.4 988.4 C531.77 995.08 541.15 1003.4 544.5 1006.4" fill="none" stroke="#3a3a3a" stroke-width="1.7" stroke-linejoin="round" stroke-linecap="round" />
<path d="M175.5 1194.5 C175.5 1188.08 175.25 1168.58 175.5 1156 C175.75 1143.42 176.25 1127.92 177 1119 C177.75 1110.08 178.5 1106.83 180 1102.5 C181.5 1098.17 183 1095.45 186 1093 C189 1090.55 193.5 1089.33 198 1087.8 C202.5 1086.27 207.83 1085.68 213 1083.8 C218.17 1081.92 223.33 1080.63 229 1076.5 C234.67 1072.37 240.75 1065.33 247 1059 C253.25 1052.67 260.83 1044.67 266.5 1038.5 C272.17 1032.33 276.92 1026.75 281 1022 C285.08 1017.25 289.33 1012 291 1010" fill="none" stroke="#3a3a3a" stroke-width="1.7" stroke-linejoin="round" stroke-linecap="round" />
<path d="M178.6 1192 C178.63 1185.33 178.52 1164.67 178.8 1152 C179.08 1139.33 179.55 1124.5 180.3 1116 C181.05 1107.5 181.68 1104.92 183.3 1101 C184.92 1097.08 186.88 1094.8 190 1092.5 C193.12 1090.2 197.67 1088.78 202 1087.2 C206.33 1085.62 211.17 1085.03 216 1083 C220.83 1080.97 225.5 1079.33 231 1075 C236.5 1070.67 242.67 1063.5 249 1057 C255.33 1050.5 263 1042.75 269 1036 C275 1029.25 280.33 1022.33 285 1016.5 C289.67 1010.67 295 1003.58 297 1001" fill="none" stroke="#3a3a3a" stroke-width="1.7" stroke-linejoin="round" stroke-linecap="round" />
<path d="M166.5 1203 C166.47 1196.17 166.08 1175.33 166.3 1162 C166.52 1148.67 167.05 1132.67 167.8 1123 C168.55 1113.33 169.35 1108.83 170.8 1104 C172.25 1099.17 173.63 1096.58 176.5 1094 C179.37 1091.42 183.42 1090 188 1088.5 C192.58 1087 198.83 1086.42 204 1085 C209.17 1083.58 214.33 1082.08 219 1080 C223.67 1077.92 227.67 1075.17 232 1072.5 C236.33 1069.83 240.67 1065.42 245 1064 C249.33 1062.58 254.17 1063.33 258 1064 C261.83 1064.67 265 1066.58 268 1068 C271 1069.42 274.67 1071.75 276 1072.5" fill="none" stroke="#3a3a3a" stroke-width="1.7" stroke-linejoin="round" stroke-linecap="round" />
<path d="M126.3 1204.1 C125.75 1199.2 123.95 1186.43 123 1174.7 C122.05 1162.97 121.15 1143.82 120.6 1133.7 C120.05 1123.58 119.57 1119.18 119.7 1114 C119.83 1108.82 120.57 1106.13 121.4 1102.6 C122.23 1099.07 123.07 1095.12 124.7 1092.8 C126.33 1090.48 127.65 1089.8 131.2 1088.7 C134.75 1087.6 142.53 1086.98 146 1086.2 C149.47 1085.42 150.65 1085.08 152 1084 C153.35 1082.92 153.75 1080.42 154.1 1079.7" fill="none" stroke="#e02a33" stroke-width="2" stroke-linejoin="round" stroke-linecap="round" />
<path d="M195.9 1192.7 C196.32 1187.52 197.17 1172.25 198.4 1161.6 C199.63 1150.95 201.4 1137.55 203.3 1128.8 C205.2 1120.05 207.35 1115.38 209.8 1109.1 C212.25 1102.82 215.53 1096.28 218 1091.1 C220.47 1085.92 221.6 1081.27 224.6 1078 C227.6 1074.73 231.92 1073.4 236 1071.5 C240.08 1069.6 245 1067.15 249.1 1066.6 C253.2 1066.05 255.95 1067.38 260.6 1068.2 C265.25 1069.02 272.63 1070.27 277 1071.5 C281.37 1072.73 284.47 1075.18 286.8 1075.6 C289.13 1076.02 289.77 1074.87 291 1074 C292.23 1073.13 292.65 1074.42 294.2 1070.4 C295.75 1066.38 298.25 1057.07 300.3 1049.9 C302.35 1042.73 304.1 1034.57 306.5 1027.4 C308.9 1020.23 311.3 1013.72 314.7 1006.9 C318.1 1000.08 322.13 993.67 326.9 986.5 C331.67 979.33 337.15 971.75 343.3 963.9 C349.45 956.05 356.97 946.55 363.8 939.4 C370.63 932.25 377.47 925.78 384.3 921 C391.13 916.22 397.98 913.78 404.8 910.7 C411.62 907.62 417.97 905.1 425.2 902.5 C432.43 899.9 439.7 896.83 448.2 895.1 C456.7 893.37 466.52 892 476.2 892.1 C485.88 892.2 497.27 893.37 506.3 895.7 C515.33 898.03 521.37 902.02 530.4 906.1 C539.43 910.18 552.13 915.18 560.5 920.2 C568.87 925.22 573.92 930.52 580.6 936.2 C587.28 941.88 592.92 947.1 600.6 954.3 C608.28 961.5 622.35 975.22 626.7 979.4" fill="none" stroke="#2323d2" stroke-width="2" stroke-linejoin="round" stroke-linecap="round" />
<polygon points="153.3,1082.6 155,1087.15 159.86,1087.37 156.06,1090.4 157.36,1095.08 153.3,1092.4 149.24,1095.08 150.54,1090.4 146.74,1087.37 151.6,1087.15" fill="#22ee22" />
<polygon points="166.4,1080.1 168.1,1084.65 172.96,1084.87 169.16,1087.9 170.46,1092.58 166.4,1089.9 162.34,1092.58 163.64,1087.9 159.84,1084.87 164.7,1084.65" fill="#22ee22" />
<polygon points="181.2,1079.3 182.9,1083.85 187.76,1084.07 183.96,1087.1 185.26,1091.78 181.2,1089.1 177.14,1091.78 178.44,1087.1 174.64,1084.07 179.5,1083.85" fill="#22ee22" />
<polygon points="196.7,1073.6 198.4,1078.15 203.26,1078.37 199.46,1081.4 200.76,1086.08 196.7,1083.4 192.64,1086.08 193.94,1081.4 190.14,1078.37 195,1078.15" fill="#22ee22" />
<polygon points="220.3,1065.7 222,1070.25 226.86,1070.47 223.06,1073.5 224.36,1078.18 220.3,1075.5 216.24,1078.18 217.54,1073.5 213.74,1070.47 218.6,1070.25" fill="#22ee22" />
<polygon points="246.5,1051.9 248.2,1056.45 253.06,1056.67 249.26,1059.7 250.56,1064.38 246.5,1061.7 242.44,1064.38 243.74,1059.7 239.94,1056.67 244.8,1056.45" fill="#22ee22" />
<polygon points="265.5,1032.7 267.2,1037.25 272.06,1037.47 268.26,1040.5 269.56,1045.18 265.5,1042.5 261.44,1045.18 262.74,1040.5 258.94,1037.47 263.8,1037.25" fill="#22ee22" />
<polygon points="277.7,1021 279.4,1025.55 284.26,1025.77 280.46,1028.8 281.76,1033.48 277.7,1030.8 273.64,1033.48 274.94,1028.8 271.14,1025.77 276,1025.55" fill="#22ee22" />
<polygon points="286.2,1008.2 287.9,1012.75 292.76,1012.97 288.96,1016 290.26,1020.68 286.2,1018 282.14,1020.68 283.44,1016 279.64,1012.97 284.5,1012.75" fill="#22ee22" />
<polygon points="293.7,1001.8 295.4,1006.35 300.26,1006.57 296.46,1009.6 297.76,1014.28 293.7,1011.6 289.64,1014.28 290.94,1009.6 287.14,1006.57 292,1006.35" fill="#22ee22" />
<polygon points="319.8,994.9 321.5,999.45 326.36,999.67 322.56,1002.7 323.86,1007.38 319.8,1004.7 315.74,1007.38 317.04,1002.7 313.24,999.67 318.1,999.45" fill="#22ee22" />
</g>
<rect x="104.3" y="855.9" width="541.4" height="359.1" fill="none" stroke="#000" stroke-width="2.8"/>
<line x1="151" y1="1215" x2="151" y2="1202" stroke="#000" stroke-width="2.4" />
<line x1="151" y1="855.9" x2="151" y2="868.9" stroke="#000" stroke-width="2.4" />
<line x1="268.6" y1="1215" x2="268.6" y2="1202" stroke="#000" stroke-width="2.4" />
<line x1="268.6" y1="855.9" x2="268.6" y2="868.9" stroke="#000" stroke-width="2.4" />
<line x1="386.2" y1="1215" x2="386.2" y2="1202" stroke="#000" stroke-width="2.4" />
<line x1="386.2" y1="855.9" x2="386.2" y2="868.9" stroke="#000" stroke-width="2.4" />
<line x1="503.8" y1="1215" x2="503.8" y2="1202" stroke="#000" stroke-width="2.4" />
<line x1="503.8" y1="855.9" x2="503.8" y2="868.9" stroke="#000" stroke-width="2.4" />
<line x1="621.4" y1="1215" x2="621.4" y2="1202" stroke="#000" stroke-width="2.4" />
<line x1="621.4" y1="855.9" x2="621.4" y2="868.9" stroke="#000" stroke-width="2.4" />
<line x1="209.8" y1="1215" x2="209.8" y2="1207.5" stroke="#000" stroke-width="2.4" />
<line x1="209.8" y1="855.9" x2="209.8" y2="863.4" stroke="#000" stroke-width="2.4" />
<line x1="327.4" y1="1215" x2="327.4" y2="1207.5" stroke="#000" stroke-width="2.4" />
<line x1="327.4" y1="855.9" x2="327.4" y2="863.4" stroke="#000" stroke-width="2.4" />
<line x1="445" y1="1215" x2="445" y2="1207.5" stroke="#000" stroke-width="2.4" />
<line x1="445" y1="855.9" x2="445" y2="863.4" stroke="#000" stroke-width="2.4" />
<line x1="562.6" y1="1215" x2="562.6" y2="1207.5" stroke="#000" stroke-width="2.4" />
<line x1="562.6" y1="855.9" x2="562.6" y2="863.4" stroke="#000" stroke-width="2.4" />
<line x1="104.3" y1="1095.3" x2="117.8" y2="1095.3" stroke="#000" stroke-width="2.4" />
<line x1="645.7" y1="1095.3" x2="632.2" y2="1095.3" stroke="#000" stroke-width="2.4" />
<line x1="104.3" y1="975.6" x2="117.8" y2="975.6" stroke="#000" stroke-width="2.4" />
<line x1="645.7" y1="975.6" x2="632.2" y2="975.6" stroke="#000" stroke-width="2.4" />
<line x1="104.3" y1="1155.15" x2="112.3" y2="1155.15" stroke="#000" stroke-width="2.4" />
<line x1="645.7" y1="1155.15" x2="637.7" y2="1155.15" stroke="#000" stroke-width="2.4" />
<line x1="104.3" y1="1035.45" x2="112.3" y2="1035.45" stroke="#000" stroke-width="2.4" />
<line x1="645.7" y1="1035.45" x2="637.7" y2="1035.45" stroke="#000" stroke-width="2.4" />
<line x1="104.3" y1="915.75" x2="112.3" y2="915.75" stroke="#000" stroke-width="2.4" />
<line x1="645.7" y1="915.75" x2="637.7" y2="915.75" stroke="#000" stroke-width="2.4" />
<text x="151" y="1238.6" font-family='"Liberation Sans", sans-serif' font-size="20" fill="#1e1e1e" text-anchor="middle" stroke="#1e1e1e" stroke-width="0.35">2</text>
<text x="268.6" y="1238.6" font-family='"Liberation Sans", sans-serif' font-size="20" fill="#1e1e1e" text-anchor="middle" stroke="#1e1e1e" stroke-width="0.35">2.5</text>
<text x="386.2" y="1238.6" font-family='"Liberation Sans", sans-serif' font-size="20" fill="#1e1e1e" text-anchor="middle" stroke="#1e1e1e" stroke-width="0.35">3</text>
<text x="503.8" y="1238.6" font-family='"Liberation Sans", sans-serif' font-size="20" fill="#1e1e1e" text-anchor="middle" stroke="#1e1e1e" stroke-width="0.35">3.5</text>
<text x="621.4" y="1238.6" font-family='"Liberation Sans", sans-serif' font-size="20" fill="#1e1e1e" text-anchor="middle" stroke="#1e1e1e" stroke-width="0.35">4</text>
<text x="97.5" y="1221.6" font-family='"Liberation Sans", sans-serif' font-size="20" fill="#1e1e1e" text-anchor="end" stroke="#1e1e1e" stroke-width="0.35">-0.4</text>
<text x="97.5" y="1101.9" font-family='"Liberation Sans", sans-serif' font-size="20" fill="#1e1e1e" text-anchor="end" stroke="#1e1e1e" stroke-width="0.35">0</text>
<text x="97.5" y="982.2" font-family='"Liberation Sans", sans-serif' font-size="20" fill="#1e1e1e" text-anchor="end" stroke="#1e1e1e" stroke-width="0.35">0.4</text>
<text x="97.5" y="862.5" font-family='"Liberation Sans", sans-serif' font-size="20" fill="#1e1e1e" text-anchor="end" stroke="#1e1e1e" stroke-width="0.35">0.8</text>
<text x="127.8" y="908.8" font-family='"Liberation Serif", serif' font-size="35" fill="#111" text-anchor="start" textLength="39.4" lengthAdjust="spacingAndGlyphs"  stroke="#111" stroke-width="0.3">(e)</text>
<text x="115" y="1036.2" font-family='"Liberation Serif", serif' font-size="22.5" fill="#1a1a1a" text-anchor="start" textLength="156.5" lengthAdjust="spacingAndGlyphs"  stroke="#1a1a1a" stroke-width="0.3">Increasing cycles</text>
<line x1="124.6" y1="1048" x2="246" y2="1048" stroke="#000" stroke-width="3.3" />
<path d="M232.5 1040.6 L247 1048 L232.5 1055.4" fill="none" stroke="#000" stroke-width="3.5" stroke-linejoin="round" stroke-linecap="round" />
<text x="625.6" y="1156" font-family='"Liberation Serif", serif' font-size="31.5" fill="#111" text-anchor="end" textLength="99.4" lengthAdjust="spacingAndGlyphs"  stroke="#111" stroke-width="0.3">PES222</text>
<text x="623.6" y="1191.6" font-family='"Liberation Serif", serif' font-size="31.5" fill="#111" text-anchor="end" textLength="68.6" lengthAdjust="spacingAndGlyphs"  stroke="#111" stroke-width="0.3">4.5 V</text>
<text x="50" y="1034" font-family='"Liberation Serif", serif' font-size="30" fill="#111" text-anchor="middle" textLength="139.5" lengthAdjust="spacingAndGlyphs" transform="rotate(-90 50 1034)"  stroke="#111" stroke-width="0.3">-Im{Z} (Ω)</text>
<text x="370" y="1272.6" font-family='"Liberation Serif", serif' font-size="31" fill="#111" text-anchor="middle" textLength="131" lengthAdjust="spacingAndGlyphs"  stroke="#111" stroke-width="0.3">Re{Z} (Ω)</text>
<g clip-path="url(#clipf)">
<path d="M680.9 1197.1 C680.62 1190.92 679.55 1172.02 679.2 1160 C678.85 1147.98 678.62 1134.33 678.8 1125 C678.98 1115.67 679.43 1109.08 680.3 1104 C681.17 1098.92 682.38 1096.75 684 1094.5 C685.62 1092.25 687.83 1091.5 690 1090.5 C692.17 1089.5 693.67 1089.25 697 1088.5 C700.33 1087.75 705.83 1087 710 1086 C714.17 1085 720 1083.08 722 1082.5" fill="none" stroke="#3a3a3a" stroke-width="1.7" stroke-linejoin="round" stroke-linecap="round" />
<path d="M688.3 1192.2 C688.12 1186 687.37 1166.7 687.2 1155 C687.03 1143.3 686.95 1130.67 687.3 1122 C687.65 1113.33 688.18 1107.67 689.3 1103 C690.42 1098.33 691.88 1096.17 694 1094 C696.12 1091.83 698.67 1091.17 702 1090 C705.33 1088.83 709.67 1088.33 714 1087 C718.33 1085.67 723.33 1083.42 728 1082 C732.67 1080.58 739.67 1079.08 742 1078.5" fill="none" stroke="#3a3a3a" stroke-width="1.7" stroke-linejoin="round" stroke-linecap="round" />
<path d="M695.6 1216 C695.5 1207.5 695.02 1180.17 695 1165 C694.98 1149.83 695 1135.17 695.5 1125 C696 1114.83 696.75 1109.17 698 1104 C699.25 1098.83 700.67 1096.42 703 1094 C705.33 1091.58 708.33 1090.83 712 1089.5 C715.67 1088.17 720 1087.58 725 1086 C730 1084.42 736.5 1082.08 742 1080 C747.5 1077.92 753.33 1075.25 758 1073.5 C762.67 1071.75 766.5 1070.25 770 1069.5 C773.5 1068.75 776.33 1068.42 779 1069 C781.67 1069.58 784.83 1072.33 786 1073" fill="none" stroke="#3a3a3a" stroke-width="1.7" stroke-linejoin="round" stroke-linecap="round" />
<path d="M704.2 1206.9 C704.1 1199.92 703.53 1178.65 703.6 1165 C703.67 1151.35 703.93 1135.17 704.6 1125 C705.27 1114.83 706.2 1109.17 707.6 1104 C709 1098.83 710.6 1096.5 713 1094 C715.4 1091.5 717.38 1090.42 722 1089 C726.62 1087.58 734.87 1086.92 740.7 1085.5 C746.53 1084.08 751.28 1081.17 757 1080.5 C762.72 1079.83 768.88 1080.72 775 1081.5 C781.12 1082.28 788.7 1085.2 793.7 1085.2 C798.7 1085.2 801.28 1082.4 805 1081.5 C808.72 1080.6 813.73 1079.05 816 1079.8 C818.27 1080.55 818.17 1084.97 818.6 1086" fill="none" stroke="#3a3a3a" stroke-width="1.7" stroke-linejoin="round" stroke-linecap="round" />
<path d="M714 1199.5 C713.93 1192.92 713.43 1172.92 713.6 1160 C713.77 1147.08 714.17 1131.33 715 1122 C715.83 1112.67 716.93 1108.67 718.6 1104 C720.27 1099.33 722.27 1096.58 725 1094 C727.73 1091.42 730.83 1090.67 735 1088.5 C739.17 1086.33 744.83 1083.83 750 1081 C755.17 1078.17 761 1074 766 1071.5 C771 1069 775.67 1066.75 780 1066 C784.33 1065.25 788 1066.17 792 1067 C796 1067.83 800.5 1069.5 804 1071 C807.5 1072.5 810.78 1074.4 813 1076 C815.22 1077.6 816.37 1079.07 817.3 1080.6 C818.23 1082.13 818.38 1084.43 818.6 1085.2" fill="none" stroke="#3a3a3a" stroke-width="1.7" stroke-linejoin="round" stroke-linecap="round" />
<path d="M720.2 1193.4 C720.17 1187.5 719.7 1170.23 720 1158 C720.3 1145.77 721 1129.17 722 1120 C723 1110.83 724.17 1107.5 726 1103 C727.83 1098.5 729.83 1095.83 733 1093 C736.17 1090.17 740.5 1088.67 745 1086 C749.5 1083.33 755.17 1079.92 760 1077 C764.83 1074.08 769.67 1070.42 774 1068.5 C778.33 1066.58 781.67 1065.83 786 1065.5 C790.33 1065.17 795.17 1065.92 800 1066.5 C804.83 1067.08 810.33 1068.25 815 1069 C819.67 1069.75 824.23 1070.48 828 1071 C831.77 1071.52 835.43 1071.27 837.6 1072.1 C839.77 1072.93 840.23 1074.18 841 1076 C841.77 1077.82 842 1081.83 842.2 1083" fill="none" stroke="#3a3a3a" stroke-width="1.7" stroke-linejoin="round" stroke-linecap="round" />
<path d="M728.8 1187.2 C728.83 1181.33 728.55 1163.53 729 1152 C729.45 1140.47 730.33 1126.33 731.5 1118 C732.67 1109.67 733.92 1106.42 736 1102 C738.08 1097.58 740.5 1094.83 744 1091.5 C747.5 1088.17 752.67 1085.17 757 1082 C761.33 1078.83 765.83 1075.08 770 1072.5 C774.17 1069.92 777.67 1067.75 782 1066.5 C786.33 1065.25 791 1065 796 1065 C801 1065 807 1065.92 812 1066.5 C817 1067.08 821.73 1067.75 826 1068.5 C830.27 1069.25 833.27 1071.05 837.6 1071 C841.93 1070.95 848.6 1068.12 852 1068.2 C855.4 1068.28 856.5 1070.2 858 1071.5 C859.5 1072.8 860.13 1074.7 861 1076 C861.87 1077.3 862.83 1078.75 863.2 1079.3" fill="none" stroke="#3a3a3a" stroke-width="1.7" stroke-linejoin="round" stroke-linecap="round" />
<path d="M734.5 1184 C734.58 1178.33 734.42 1161.33 735 1150 C735.58 1138.67 736.75 1124.33 738 1116 C739.25 1107.67 740.5 1104.33 742.5 1100 C744.5 1095.67 746.75 1093.5 750 1090 C753.25 1086.5 758 1082.33 762 1079 C766 1075.67 770 1072.33 774 1070 C778 1067.67 781.67 1066 786 1065 C790.33 1064 795.17 1063.92 800 1064 C804.83 1064.08 810.33 1065 815 1065.5 C819.67 1066 823.83 1066.92 828 1067 C832.17 1067.08 836 1066.83 840 1066 C844 1065.17 848.47 1063.38 852 1062 C855.53 1060.62 858.03 1057.43 861.2 1057.7 C864.37 1057.97 868.27 1061.75 871 1063.6 C873.73 1065.45 875.85 1066.83 877.6 1068.8 C879.35 1070.77 880.18 1073.98 881.5 1075.4 C882.82 1076.82 884.83 1076.98 885.5 1077.3" fill="none" stroke="#3a3a3a" stroke-width="1.7" stroke-linejoin="round" stroke-linecap="round" />
<path d="M676 1200.8 C675.38 1194.85 673.33 1177.18 672.3 1165.1 C671.27 1153.02 670 1137.3 669.8 1128.3 C669.6 1119.3 670.28 1116.43 671.1 1111.1 C671.92 1105.77 672.87 1099.98 674.7 1096.3 C676.53 1092.62 679.23 1090.83 682.1 1089 C684.97 1087.17 688.83 1086.53 691.9 1085.3 C694.97 1084.07 699.07 1082.22 700.5 1081.6" fill="none" stroke="#e02a33" stroke-width="2" stroke-linejoin="round" stroke-linecap="round" />
<path d="M742.3 1186 C742.92 1180.48 744.37 1163.75 746 1152.9 C747.63 1142.05 749.23 1130.73 752.1 1120.9 C754.97 1111.07 759.3 1101.07 763.2 1093.9 C767.1 1086.73 771.4 1082.2 775.5 1077.9 C779.6 1073.6 783.5 1070.15 787.8 1068.1 C792.1 1066.05 798.03 1066.63 801.3 1065.6 C804.57 1064.57 805.62 1062.42 807.4 1061.9 C809.18 1061.38 810.35 1061.88 812 1062.5 C813.65 1063.12 813.15 1064.67 817.3 1065.6 C821.45 1066.53 832.4 1066.87 836.9 1068.1 C841.4 1069.33 841.43 1071.98 844.3 1073 C847.17 1074.02 850.83 1075.22 854.1 1074.2 C857.37 1073.18 860.62 1069.35 863.9 1066.9 C867.18 1064.45 870.12 1061.97 873.8 1059.5 C877.48 1057.03 882.32 1053.73 886 1052.1 C889.68 1050.47 892.2 1049.7 895.9 1049.7 C899.6 1049.7 904.12 1050.47 908.2 1052.1 C912.28 1053.73 916.32 1056.63 920.4 1059.5 C924.48 1062.37 929.83 1066.85 932.7 1069.3 C935.57 1071.75 935.95 1073.78 937.6 1074.2 C939.25 1074.62 941.77 1072.2 942.6 1071.8" fill="none" stroke="#2323d2" stroke-width="2" stroke-linejoin="round" stroke-linecap="round" />
<polygon points="696.9,1085.6 698.6,1090.15 703.46,1090.37 699.66,1093.4 700.96,1098.08 696.9,1095.4 692.84,1098.08 694.14,1093.4 690.34,1090.37 695.2,1090.15" fill="#22ee22" />
<polygon points="714.1,1085.6 715.8,1090.15 720.66,1090.37 716.86,1093.4 718.16,1098.08 714.1,1095.4 710.04,1098.08 711.34,1093.4 707.54,1090.37 712.4,1090.15" fill="#22ee22" />
<polygon points="725.3,1084.7 727,1089.25 731.86,1089.47 728.06,1092.5 729.36,1097.18 725.3,1094.5 721.24,1097.18 722.54,1092.5 718.74,1089.47 723.6,1089.25" fill="#22ee22" />
<polygon points="741.6,1084.4 743.3,1088.95 748.16,1089.17 744.36,1092.2 745.66,1096.88 741.6,1094.2 737.54,1096.88 738.84,1092.2 735.04,1089.17 739.9,1088.95" fill="#22ee22" />
<polygon points="768.2,1080.9 769.9,1085.45 774.76,1085.67 770.96,1088.7 772.26,1093.38 768.2,1090.7 764.14,1093.38 765.44,1088.7 761.64,1085.67 766.5,1085.45" fill="#22ee22" />
<polygon points="793.7,1078.3 795.4,1082.85 800.26,1083.07 796.46,1086.1 797.76,1090.78 793.7,1088.1 789.64,1090.78 790.94,1086.1 787.14,1083.07 792,1082.85" fill="#22ee22" />
<polygon points="817.3,1073.7 819,1078.25 823.86,1078.47 820.06,1081.5 821.36,1086.18 817.3,1083.5 813.24,1086.18 814.54,1081.5 810.74,1078.47 815.6,1078.25" fill="#22ee22" />
<polygon points="837.6,1065.2 839.3,1069.75 844.16,1069.97 840.36,1073 841.66,1077.68 837.6,1075 833.54,1077.68 834.84,1073 831.04,1069.97 835.9,1069.75" fill="#22ee22" />
<polygon points="852,1061.3 853.7,1065.85 858.56,1066.07 854.76,1069.1 856.06,1073.78 852,1071.1 847.94,1073.78 849.24,1069.1 845.44,1066.07 850.3,1065.85" fill="#22ee22" />
<polygon points="861.2,1050.8 862.9,1055.35 867.76,1055.57 863.96,1058.6 865.26,1063.28 861.2,1060.6 857.14,1063.28 858.44,1058.6 854.64,1055.57 859.5,1055.35" fill="#22ee22" />
<polygon points="888.8,1044.9 890.5,1049.45 895.36,1049.67 891.56,1052.7 892.86,1057.38 888.8,1054.7 884.74,1057.38 886.04,1052.7 882.24,1049.67 887.1,1049.45" fill="#22ee22" />
</g>
<rect x="650.1" y="855.7" width="541.3" height="359.3" fill="none" stroke="#000" stroke-width="2.8"/>
<line x1="696.6" y1="1215" x2="696.6" y2="1202" stroke="#000" stroke-width="2.4" />
<line x1="696.6" y1="855.7" x2="696.6" y2="868.7" stroke="#000" stroke-width="2.4" />
<line x1="814.2" y1="1215" x2="814.2" y2="1202" stroke="#000" stroke-width="2.4" />
<line x1="814.2" y1="855.7" x2="814.2" y2="868.7" stroke="#000" stroke-width="2.4" />
<line x1="931.8" y1="1215" x2="931.8" y2="1202" stroke="#000" stroke-width="2.4" />
<line x1="931.8" y1="855.7" x2="931.8" y2="868.7" stroke="#000" stroke-width="2.4" />
<line x1="1049.4" y1="1215" x2="1049.4" y2="1202" stroke="#000" stroke-width="2.4" />
<line x1="1049.4" y1="855.7" x2="1049.4" y2="868.7" stroke="#000" stroke-width="2.4" />
<line x1="1167" y1="1215" x2="1167" y2="1202" stroke="#000" stroke-width="2.4" />
<line x1="1167" y1="855.7" x2="1167" y2="868.7" stroke="#000" stroke-width="2.4" />
<line x1="755.4" y1="1215" x2="755.4" y2="1207.5" stroke="#000" stroke-width="2.4" />
<line x1="755.4" y1="855.7" x2="755.4" y2="863.2" stroke="#000" stroke-width="2.4" />
<line x1="873" y1="1215" x2="873" y2="1207.5" stroke="#000" stroke-width="2.4" />
<line x1="873" y1="855.7" x2="873" y2="863.2" stroke="#000" stroke-width="2.4" />
<line x1="990.6" y1="1215" x2="990.6" y2="1207.5" stroke="#000" stroke-width="2.4" />
<line x1="990.6" y1="855.7" x2="990.6" y2="863.2" stroke="#000" stroke-width="2.4" />
<line x1="1108.2" y1="1215" x2="1108.2" y2="1207.5" stroke="#000" stroke-width="2.4" />
<line x1="1108.2" y1="855.7" x2="1108.2" y2="863.2" stroke="#000" stroke-width="2.4" />
<line x1="650.1" y1="1095.23" x2="663.6" y2="1095.23" stroke="#000" stroke-width="2.4" />
<line x1="1191.4" y1="1095.23" x2="1177.9" y2="1095.23" stroke="#000" stroke-width="2.4" />
<line x1="650.1" y1="975.47" x2="663.6" y2="975.47" stroke="#000" stroke-width="2.4" />
<line x1="1191.4" y1="975.47" x2="1177.9" y2="975.47" stroke="#000" stroke-width="2.4" />
<line x1="650.1" y1="1155.12" x2="658.1" y2="1155.12" stroke="#000" stroke-width="2.4" />
<line x1="1191.4" y1="1155.12" x2="1183.4" y2="1155.12" stroke="#000" stroke-width="2.4" />
<line x1="650.1" y1="1035.35" x2="658.1" y2="1035.35" stroke="#000" stroke-width="2.4" />
<line x1="1191.4" y1="1035.35" x2="1183.4" y2="1035.35" stroke="#000" stroke-width="2.4" />
<line x1="650.1" y1="915.58" x2="658.1" y2="915.58" stroke="#000" stroke-width="2.4" />
<line x1="1191.4" y1="915.58" x2="1183.4" y2="915.58" stroke="#000" stroke-width="2.4" />
<text x="696.6" y="1238.6" font-family='"Liberation Sans", sans-serif' font-size="20" fill="#1e1e1e" text-anchor="middle" stroke="#1e1e1e" stroke-width="0.35">2</text>
<text x="814.2" y="1238.6" font-family='"Liberation Sans", sans-serif' font-size="20" fill="#1e1e1e" text-anchor="middle" stroke="#1e1e1e" stroke-width="0.35">2.5</text>
<text x="931.8" y="1238.6" font-family='"Liberation Sans", sans-serif' font-size="20" fill="#1e1e1e" text-anchor="middle" stroke="#1e1e1e" stroke-width="0.35">3</text>
<text x="1049.4" y="1238.6" font-family='"Liberation Sans", sans-serif' font-size="20" fill="#1e1e1e" text-anchor="middle" stroke="#1e1e1e" stroke-width="0.35">3.5</text>
<text x="1167" y="1238.6" font-family='"Liberation Sans", sans-serif' font-size="20" fill="#1e1e1e" text-anchor="middle" stroke="#1e1e1e" stroke-width="0.35">4</text>
<text x="670" y="908.8" font-family='"Liberation Serif", serif' font-size="35" fill="#111" text-anchor="start" textLength="34.9" lengthAdjust="spacingAndGlyphs"  stroke="#111" stroke-width="0.3">(f)</text>
<text x="1144" y="1192.7" font-family='"Liberation Serif", serif' font-size="31.5" fill="#111" text-anchor="end" textLength="69" lengthAdjust="spacingAndGlyphs"  stroke="#111" stroke-width="0.3">3.8 V</text>
<text x="916" y="1272.8" font-family='"Liberation Serif", serif' font-size="31" fill="#111" text-anchor="middle" textLength="131" lengthAdjust="spacingAndGlyphs"  stroke="#111" stroke-width="0.3">Re{Z} (Ω)</text>
</g></svg></div>
</body></html>
